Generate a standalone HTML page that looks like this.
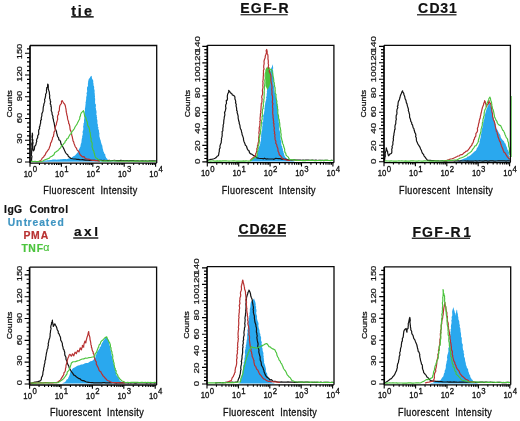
<!DOCTYPE html>
<html><head><meta charset="utf-8"><style>
html,body{margin:0;padding:0;background:#fff;width:520px;height:421px;overflow:hidden;}
text.r{stroke:#111;stroke-width:0.28px;stroke-linejoin:round;}
svg{display:block;filter:blur(0.4px);}
</style></head><body>
<svg width="520" height="421" viewBox="0 0 520 421" font-family='"Liberation Sans", sans-serif' fill="#111">
<rect width="520" height="421" fill="#fff"/>
<polygon points="40,161.8 41.17,161.46 42.56,161.22 43.8,160.8 45,160.5 46.35,160.38 47.48,160.23 48.76,160.27 50.24,159.93 51.39,159.95 52.65,159.61 54,159.6 55.27,159.48 56.69,159.63 57.94,159.56 59.35,159.48 60.74,159.14 62,159.2 63.23,158.98 64.29,159 65.8,159.04 66.58,159.29 68,158.8 69.46,158.15 70.3,158.3 71.5,157.8 73.04,156.45 74,156 75.04,155.56 76.08,154.26 77.2,153.01 78,152 78.28,150.94 78.89,149.48 79.56,148.34 79.72,147.65 80.39,146.64 80.6,145 80.96,143.45 81.35,142.99 81.5,141.57 81.61,139.99 81.91,138.33 82.23,137.93 82.11,136.55 82.6,135 82.87,133.3 82.51,132.61 82.75,131.02 83.15,130.18 83.36,128.83 83.18,126.92 83.14,125.88 83.55,125.26 83.44,123.62 84.08,122.38 84.04,121.39 84,120 84.24,118.72 84.28,117.74 84.13,116.61 84.77,114.46 84.41,113.45 84.46,112.07 84.98,110.8 85,110 84.81,109.28 85.18,107.55 85.36,106.06 85.47,104.63 85.68,103.45 85.49,102.15 85.81,101.77 86,100 86.2,99.33 86.18,97.21 86.53,95.88 86.86,94.87 86.46,93.48 86.61,93.02 87.23,91.32 87,90 86.99,88.16 87.07,87.26 87.67,86.4 88,85.39 87.83,83.96 88.08,82.77 88.09,81.82 88.5,80 88.82,78.97 89.73,78.03 90.5,76.5 91.7,75.8 91.88,77.67 92.21,78.88 93,80 93.33,81.26 93.14,82.36 93.52,83.41 93.51,85.41 93.97,85.97 94.22,87.66 94.05,88.85 94.5,90 94.65,90.78 94.53,92.94 94.82,93.42 94.77,94.95 95.09,96.68 94.73,96.96 95.07,98.17 95.2,100 95.05,100.78 95.1,102.65 95.21,103.83 95.94,104.57 95.89,106.35 95.56,108.04 96.07,108.61 96,110 96.44,110.77 96.57,112.91 96.21,114.25 96.85,115.5 96.66,116.54 97.18,117.32 96.8,118.17 97.3,120 97.47,121.31 97.36,122.66 97.48,123.72 97.97,124.64 97.81,126.73 98.55,127.61 98.13,128.78 98.97,130.32 98.94,130.7 99.02,132.18 99.48,133.16 99.3,135 99.43,136.71 99.68,137.26 100.14,139.21 100.74,140.52 100.7,140.76 101.14,142.82 101.66,144.27 101.9,145 102.39,145.66 102.43,146.98 102.73,148.7 103.19,149.97 103.22,151.32 103.9,152 104.16,153.54 105.15,153.95 105.43,156.32 105.9,157 106.21,158 107.18,158.86 107.9,160 109.2,160.22 110.58,160.56 112,161 113.29,161.23 114.76,161.08 115.9,161.17 117.41,161.22 118.7,161.27 120,161.5" fill="#2aa8ee" stroke="none"/>
<polyline points="30.5,161.5 31.6,160.5 31.54,159.08 31.82,157.45 31.96,156.29 31.38,155.19 31.53,153.37 31.64,152.59 31.61,151.76 31.72,150.26 31.79,148.24 31.89,147.63 31.96,146.27 31.73,144.35 31.77,143.47 32.33,142.03 32.33,140.39 31.94,139.76 32.37,138.59 31.94,136.98 32.04,135.92 32.32,134.54 32.3,133 32.58,134.96 32.43,136.35 32.38,137.59 32.32,138.77 32.97,139.95 32.66,141.65 33.06,142.9 32.8,144.03 32.63,145.43 32.93,146.98 32.8,148.08 32.95,149.34 33.3,150.9 34.19,149.86 34.5,148.04 34.66,146.29 35.5,145.5 35.85,144.8 36.31,142.59 36.8,141.33 36.45,140.39 37.06,138.58 37.72,137.57 37.66,135.99 37.71,135.8 38.71,134.13 38.7,132.7 38.62,130.96 38.93,129.48 39.65,128.7 39.35,127.16 39.9,126.15 40.19,124.37 40.64,123.01 40.63,122.45 40.63,120.29 41.51,119.78 41.19,118.42 41.37,117.31 41.9,115.6 41.81,113.82 42.19,113.12 42.9,111.35 43.08,110.23 43.1,109.24 43.19,107.96 43.51,105.98 43.97,105.09 43.78,104.3 44.55,102.38 44.82,101.45 44.52,99.29 45.1,98.5 45.33,97.09 45.7,95.46 45.55,94.4 46.4,92.65 46.61,92.02 46.41,90.11 46.71,89.19 46.67,87.84 47.53,87.18 47.61,85.19 47.7,84 48.2,84.91 48.34,87.16 48.18,88.21 48.61,90.18 48.98,90.97 49.39,92.73 49.4,94.2 49.76,95.34 49.61,96.63 49.64,98.47 50.16,99.33 50.28,101 50.7,101.65 50.24,103.87 51.01,104.99 50.88,106.59 51.29,106.87 51.32,109.04 51.18,110.36 51.5,111.3 52.09,112.66 52.02,114.13 52.59,115.57 53.02,116.74 52.83,117.7 53.4,119.55 53.61,121.44 54.08,122.51 54.21,123.29 54.42,124.72 54.7,126.3 55.08,128.22 55.55,129.34 55.98,130.24 56.57,131.82 56.59,132.9 57.22,134.79 57.19,135.16 57.9,137 58.61,137.96 58.88,139.9 59.82,140.24 60.66,141.78 60.63,142.51 61.34,144.74 62.2,145.5 62.93,147.02 63.54,148.21 63.92,149.03 64.62,150.63 65.17,151.87 65.69,152.74 66.5,154 67.58,154.58 68.31,156.31 69.41,157.17 70.7,158.3 72.57,158.72 73.96,158.98 75.37,159.01 77,159.4 78.35,159.37 79.73,159.58 81.21,159.75 82.61,159.62 83.98,159.8 85.32,160.11 86.74,160.11 88.13,160.11 89.54,160.36 91,160.3 92.34,160.43 93.71,160.26 94.89,160.35 96.25,160.49 97.51,160.33 98.88,160.28 100.1,160.27 101.42,160.39 102.6,160.52 104.1,160.43 105.2,160.62 106.56,160.52 107.8,160.52 109.27,160.42 110.47,160.67 111.71,160.52 113,160.5 114.47,160.41 115.72,160.6 117.07,160.69 118.35,160.66 119.69,160.69 120.85,160.45 122.24,160.64 123.59,160.52 124.76,160.73 126.07,160.64 127.39,160.64 128.78,160.87 129.95,160.64 131.2,160.72 132.71,160.71 133.83,160.64 135.17,160.9 136.54,160.91 137.88,160.72 139.14,160.98 140.47,160.93 141.64,160.78 143,160.74 144.34,160.99 145.59,160.72 146.9,161.04 148.11,160.98 149.48,160.79 150.89,160.93 152.18,160.81 153.33,160.92 154.74,160.82 156,161" fill="none" stroke="#141414" stroke-width="1.2" stroke-linejoin="round"/>
<polyline points="39.3,161 40.8,160.5 41.68,159.34 42.16,158.12 43.61,157.11 44.3,155.69 45.1,155 45.76,153.61 46.27,152.23 46.96,151.74 47.97,150.08 48.88,149.06 49.4,147.6 49.67,146.78 50.28,145.59 50.5,143.58 50.77,142.85 51.59,141.57 51.83,140.42 52.52,139.02 52.42,137.75 53.51,136.36 53.6,134.8 53.88,133.66 54.08,131.88 54.84,131.13 55.15,129.37 55.13,128.79 55.26,127.15 55.81,125.53 56.34,124.75 56.41,123.6 56.8,122 57.4,120.14 57.67,118.99 57.51,117.56 57.5,116.62 57.8,115.3 58.64,114.2 58.35,112.09 59.1,111.11 59.45,109.56 59.4,108.25 59.6,107 59.82,105.71 60.65,104.3 61.51,103.41 61.45,101.29 62.2,100.6 62.7,101.53 63.53,102.77 64.8,104.42 65.4,106 65.53,107.17 65.83,108.41 66.11,109.99 66.18,111.2 66.32,112.15 66.68,113.61 66.9,115.11 67.4,116.5 67.5,117.7 67.55,118.4 67.92,119.9 68.67,121.96 68.56,123.22 69.36,124.33 69.47,125.24 69.82,126.45 69.95,128.23 70.2,129.81 70.7,130.6 70.9,131.41 71.44,132.89 71.63,134.5 71.8,135.35 72.47,137.5 72.39,137.8 72.74,139.08 73.02,140.99 73.68,141.85 74,143.4 74.51,144.58 75.08,146.26 75.52,147.08 76.37,148.06 77,149.8 77.81,150.64 78.86,151.72 79.37,152.96 80.14,154.7 81.3,155.8 82.43,156.88 83.98,156.58 85.2,158.41 86.87,159.02 88,159.2 89.46,159.43 90.99,160.01 92.6,160.3 94.16,160.29 95.47,160.58 96.99,160.68 98.5,161.03 100,161" fill="none" stroke="#b83232" stroke-width="1.2" stroke-linejoin="round"/>
<polyline points="30.5,161.4 31.93,161.33 33.51,161.45 34.97,161.43 36.48,161.58 37.87,161.63 39.28,161.38 40.8,161.5 42.12,161.21 43.32,160.67 44.39,160.04 45.77,159.49 46.9,159.12 48.48,158.42 49.4,158.3 50.18,157.04 51.84,156.32 52.87,155.48 53.93,154.7 54.83,152.52 55.8,152 56.42,151.55 57.66,150.74 58.63,149.81 59.39,148.76 60.63,147.84 61.23,146.17 62.2,145.5 63.14,144.65 63.64,143.65 64.87,142.72 65.16,141.29 66.35,140.32 66.81,138.71 67.88,138.57 68.6,137 69.15,136.07 70.16,134.31 71.5,133.45 71.77,131.75 72.9,130.6 73.56,129.6 74.46,128.56 75,127 75.87,125.77 77,124.1 77.7,122.57 78.3,121.41 79,120 79.71,119.02 79.78,117.13 80.54,115.62 80.5,114.63 81.3,112.9 82.07,112.07 83.5,110.6 83.63,111.6 84.17,113.46 84.52,115.48 85.1,116.7 85.77,117.57 86.23,119.35 86.54,120.63 87.17,121.67 87.4,122.8 87.46,124.17 87.86,125.92 88.56,126.72 89.03,127.83 89.38,128.96 89.7,130.4 89.71,131.52 90.26,132.84 90.38,134.77 90.51,135.18 90.59,136.96 91.26,138.77 91.2,139.5 91.09,141.12 91.82,142.28 92.12,142.92 92.2,144.78 91.97,146.42 92.23,147.36 92.7,148.6 92.9,149.83 93.8,150.85 94.06,152.92 94.44,153.42 94.59,154.68 95,156.2 95.69,157.7 97.03,158.45 97.81,159.12 98.8,160 100.38,160.55 102,161 103.42,161.15 104.7,160.85 105.94,160.94 107.2,161.15 108.61,161.11 109.99,160.9 111.28,160.87 112.59,161 113.76,160.87 115.11,160.87 116.41,160.98 117.9,161.15 119.11,160.96 120.54,161.21 121.83,161.06 123.05,160.96 124.37,161.23 125.72,161.06 126.98,161.07 128.26,161.18 129.67,161.02 130.91,161.09 132.36,160.99 133.71,161.07 134.94,160.94 136.21,161.13 137.5,161.13 138.78,161.26 140.17,161.14 141.53,161.16 142.82,161.31 144.12,161.05 145.36,161.06 146.82,161.18 148.04,161.04 149.38,161.26 150.67,161.09 152.03,161.2 153.45,161.31 154.58,161.09 156,161.2" fill="none" stroke="#4cc43e" stroke-width="1.15" stroke-linejoin="round"/>
<polygon points="250,161.5 251.02,160.46 252.1,159.8 252.98,158.91 253.79,157.45 254.85,157.09 255.79,156.49 257,155 257.02,153.38 257.37,152.82 257.9,151.22 258.21,150.16 258.6,148.4 258.95,147.27 259.05,146.64 259.8,145.2 260.28,143.62 260.25,142.41 260.6,141.45 261,140 260.76,138.71 261.27,137.31 261.02,136.5 261.13,135.08 261.35,133.19 261.49,131.98 261.59,131.47 262.12,129.84 262.19,128.72 262.2,127.95 262.18,126.69 262.58,125.22 262.2,123.25 262.34,122.31 263.12,121.7 263.16,119.54 263.19,119.08 263.38,117.85 263.02,115.86 263.4,115 263.83,114.04 264.12,112.44 264.33,110.82 264.6,110.46 264.37,108.23 264.73,107.73 264.81,105.72 264.97,105.39 265.06,104.27 265.39,102.15 265.5,101.83 266,100 266.42,98.56 265.98,97.74 266.68,95.75 266.63,95.54 266.64,93.97 267.02,92.35 266.77,91.64 267.1,90.26 267.08,89.52 267.18,87.99 267.75,86.44 267.28,85 267.42,83.69 267.59,82.7 267.91,81.6 268.25,80.66 268.4,79.06 268.4,78 268.84,76.86 268.77,75.66 269.23,74.61 269.85,72.89 270,72 270.4,70.66 270.75,68.88 271.03,68.74 271.97,66.79 272.37,65.31 272.7,64.3 272.91,66.05 273.02,66.67 273.23,68.43 272.63,69.02 272.97,70.07 273.15,71.12 273.31,73.18 272.88,74.19 273.09,75.34 273.45,76.95 273.59,77.39 273.6,78.37 273.5,80 273.75,81.15 273.53,82.19 273.6,84.11 273.61,84.68 273.78,85.84 274.27,87.6 274.32,89.23 274.3,90 274.56,90.7 274.68,92.52 275.36,94.25 275.51,94.67 275.87,96.77 275.98,98.02 276.69,98.84 276.7,100 276.82,100.8 276.69,101.95 277.18,104.01 277.59,105.12 277.72,106.13 277.24,106.97 277.48,108.79 278.12,109.76 277.71,111.52 277.95,112.57 277.92,114.17 278.3,115 278.72,116.56 278.84,117.3 278.31,118.52 279.05,119.96 278.66,120.83 278.75,122.43 279.41,124.21 279.41,125.31 279.11,126.58 279.25,127.53 279.23,129.22 279.41,130.11 279.91,131.42 280.04,132.34 280.24,134.28 280.22,135.58 280.51,135.72 280.49,137.01 280.6,138.6 280.6,140 281.16,140.7 281.52,141.95 281.18,143.15 281.53,145.58 282.34,146.75 282.17,147.73 282.91,149.02 282.83,150.57 283.46,151.47 283.44,152.38 284.09,153.77 284.2,155 284.95,156.5 285.66,157.43 286.15,158.04 287.29,158.82 288,160 289.44,160.22 290.83,160.64 292.12,161.06 293.54,161.07 295,161.5" fill="#2aa8ee" stroke="none"/>
<polygon points="265.4,70 266.5,67.5 269.5,67 270.5,72 271,80 269.5,86 267.5,90 265.5,86" fill="#4cc43e" stroke="none"/>
<polyline points="208,160.2 209.38,159.76 210.84,159.37 212.48,159.14 213.9,158.7 215,158.25 216.11,157.64 217.35,156.02 218.4,155.7 218.71,154.34 218.95,152.69 219.33,151.32 219.31,150.04 219.55,148.64 220.16,147.88 219.91,146.44 220.21,145.18 220.71,143.72 221.22,142.67 221.3,141 221.6,139.42 221.34,138.43 221.82,137.47 222.24,135.29 222.07,134.59 222.24,133.56 222.12,131.56 222.88,130.87 222.8,128.7 223.03,127.45 223.27,126.14 223.08,125.11 223.66,123.65 223.7,122.42 223.82,120.41 223.87,120.11 224.14,118.67 224.3,117 224.82,115.11 224.85,114.31 224.51,112.65 225.06,111.61 225.52,110.14 225.65,108.88 225.96,108.22 225.58,106.69 225.74,104.78 226.49,103.56 226.4,102.3 226.31,100.38 227.26,100.09 227.5,98.14 227.28,97.23 227.35,95.81 227.68,93.99 228.37,92.73 228.8,91.93 228.7,90.4 229.77,91.57 230.51,92.95 231.7,93.4 232.37,94.89 233.72,95.52 234.7,96.4 234.95,97.62 234.91,98.93 235.47,100.24 235.81,102.05 235.48,102.68 236.29,104.56 236,105.91 236.52,107.48 236.69,109.1 236.58,110.4 237.3,111.14 237.09,112.22 237.6,114 238.02,115.56 238.17,116.23 238.13,118.07 238.41,119.21 238.62,120.49 239.27,122.55 239.16,123.3 239.66,124.57 239.99,125.67 240.1,127.35 240.6,129 241.26,130.11 241.54,132.03 241.94,132.98 242.07,134.45 242.5,135.54 242.91,136.6 243.48,138.36 243.48,139.64 243.89,141.19 244.64,143.11 245,143.9 245.39,145.26 246.5,146.13 246.89,147.81 247.29,148.92 248.5,150.75 249.15,150.94 249.5,152.8 250.89,153.95 251.9,154.22 253.3,155.4 254.63,156.02 256,156.78 256.9,157.8 258.86,158.27 260.22,158.52 262,158.5 263.62,158.85 264.51,158.21 266.07,159.06 267.36,158.74 268.7,158.99 270,159 271.41,159 272.89,159.02 273.94,159.33 275.88,158.28 276.9,158.49 278.65,158.67 280,158.5 281.37,159.14 282.86,158.96 284.33,159.26 285.64,159.21 287.14,159.69 288.66,159.8 290,160 291.23,160.07 292.68,160.12 293.84,159.88 295.2,159.97 296.48,160.17 297.88,160.12 299.21,160.18 300.35,160.09 301.68,160.31 303.01,160.07 304.41,160.33 305.61,160.11 306.9,160.03 308.27,160.04 309.65,160.34 310.82,160.27 312.22,160.12 313.49,160.4 314.76,160.42 316.01,160.12 317.31,160.5 318.63,160.27 319.88,160.31 321.22,160.36 322.47,160.24 323.77,160.55 325.24,160.31 326.44,160.33 327.79,160.44 329.14,160.5 330.29,160.5 331.6,160.46 333,160.5" fill="none" stroke="#141414" stroke-width="1.2" stroke-linejoin="round"/>
<polyline points="250,160.5 250.93,159.69 251.9,158.62 252.66,157.95 253.62,157.4 254.57,156.47 255.7,155 255.68,153.57 256.28,152.81 256.77,150.68 256.89,149.97 256.83,148.56 257.56,147.38 257.41,145.74 257.85,144.64 258.35,142.15 258.75,141.75 258.7,140 258.63,139.24 258.64,137.9 259.04,135.48 259.28,134.52 258.84,133.02 258.94,132.05 259.17,131.29 259.33,129 259.15,128.41 259.31,127.39 259.86,125.61 259.83,123.95 260.15,122.67 259.7,121.67 260.31,120.83 260.04,118.63 260.19,117.16 260.38,115.98 260.4,115 260.39,113.98 260.99,112.42 260.65,111.45 261.01,109.61 261.01,108.57 261.09,106.41 261.25,105.23 261.25,103.64 261.77,102.42 262.03,101.54 261.9,100 262.23,98.89 261.75,97.74 261.81,95.95 262.48,94.8 262.62,93.43 262.6,91.98 262.38,90.95 262.56,89.3 262.87,88.03 263.06,86.86 262.76,86.07 262.93,84.08 263.07,82.9 262.75,81.26 263.01,80.4 263.22,78.85 263.22,77.98 263.31,75.94 263.5,75 263.36,73.98 263.51,72.08 263.45,70.36 264.12,68.98 263.68,67.86 263.77,67.25 263.69,66 264.07,64.06 264.17,63.19 263.99,61.34 264.3,60 265.2,57.6 265.23,56.49 265.5,55.34 266,54.14 266.5,52.39 266.1,50.7 266.7,49.5 267.04,50.9 267.21,51.77 267.07,53.53 267.71,54.33 267.99,56.01 268,57.6 267.95,59.06 268.22,59.97 268.34,62.13 268.17,63.61 268.6,64.88 268.49,65.96 268.18,67.21 268.6,68.6 269.4,70.45 269.16,71.73 269.69,72.35 270.12,73.37 270.8,75 270.98,76.72 270.89,77.93 271.09,78.56 270.89,80.64 271.24,82.13 271.23,82.41 271.74,84.55 271.91,85.31 271.92,86.48 272.01,88.34 271.68,89.06 271.96,90.99 272.03,92.6 271.91,93.27 271.91,94.28 272.54,96.41 272.58,97.25 272.53,98.3 272.6,100 272.31,101.65 272.42,103.03 272.97,103.55 272.57,105.01 272.51,107.35 272.88,108.35 272.7,109.69 272.82,110.56 272.66,111.94 272.73,113.64 272.9,115 273.1,115.9 273,117.9 273.34,118.45 273.36,120.41 273.8,121.23 273.41,123 274.01,123.65 273.77,125.7 273.92,126.3 274.45,128.38 274.1,128.97 274.25,130.89 274.69,132.7 274.32,133.52 275.02,134.3 274.74,136.56 275.14,137.85 274.97,139.13 275.3,140 275.95,141.33 275.7,143.19 276.63,144.48 276.9,145.7 276.9,146.29 277.82,148.35 277.99,149.77 278.06,151.25 278.96,152.74 278.93,153.25 279.4,155 280.6,155.73 281.95,157.85 282.79,158.51 284,159.5 285.6,159.77 287.03,160.14 288.5,160.38 290,160.5" fill="none" stroke="#b83232" stroke-width="1.2" stroke-linejoin="round"/>
<polyline points="208,161 209.31,160.97 210.69,161.11 212,160.96 213.35,160.89 214.63,161.06 215.81,161.16 217.23,160.85 218.55,161.06 219.82,160.82 221.16,161.17 222.53,160.93 223.79,160.88 225.07,160.9 226.38,160.88 227.68,160.96 228.95,161.14 230.41,161.03 231.69,161.04 232.99,160.91 234.2,160.93 235.56,161.01 236.96,161.11 238.15,160.95 239.54,161.09 240.72,160.97 242.02,161.07 243.54,160.88 244.77,161.16 246.02,160.84 247.39,161.03 248.72,161.13 250,161 251.14,160.21 252.43,159.22 253.18,158.6 254.42,158.05 256.11,157.01 257,156 257.3,154.92 257,152.85 257.22,152.38 257.98,150.58 257.68,149.53 258.28,148.46 257.91,146.52 258.15,146.23 258.97,143.84 259.02,143.67 259.3,141.49 259.45,140.12 258.97,138.7 259.18,138.47 259.67,136.92 259.75,135.41 260.27,133.76 260.56,132.15 260.62,131 260.64,129.9 260.99,128.49 260.86,127.85 261.21,126.09 261.3,125 261.2,124.14 261.67,121.79 261.56,120.86 262.14,119.25 262.15,118.11 261.96,116.74 262.47,116.3 262.24,114.19 262.39,113.68 262.28,111.48 262.45,110.96 262.57,109.22 263.18,108.41 263.01,107.17 263.53,105.81 263.17,103.58 263.61,102.47 263.91,101.12 263.7,100 263.98,98.96 264.16,97.83 264.06,96.1 264.19,94.72 264.23,93.93 264.16,92.4 264.18,91.22 264.45,89.05 264.35,88.22 264.39,87.12 264.56,86.09 264.77,83.8 265.05,82.89 264.83,81.96 264.79,80.13 265.3,78.7 265.34,77.65 265.09,75.83 265.2,75 265.22,73.44 265.97,72.29 266.31,71.13 266.7,69.5 268.04,69.8 269.63,69.08 271.4,69.5 272,70.56 272.08,72.19 272.64,73.35 273,75 272.91,75.98 273.47,77.88 273.58,78.58 273.81,80.55 273.67,81.43 274.44,83.13 274.13,83.92 274.59,85.55 274.58,86.53 275.14,87.76 275.09,89.25 275.26,90.53 275.13,92.17 275.34,93.76 276.1,94.41 275.92,96.01 276.14,97.93 276.06,98.28 276.5,100 276.99,101.85 276.58,102.54 277.17,104.69 276.81,105.21 277.58,106.7 277.4,108.75 277.88,109.17 277.86,110.97 277.77,112.28 277.87,113.94 278.3,115 278.58,116.1 278.55,118.15 278.81,118.7 279.24,119.75 279.38,121.65 279.67,122.78 279.84,124.62 279.78,125.73 279.88,126.78 280.34,127.98 280.6,130.01 280.78,130.19 280.71,132.43 281.03,133.6 281.21,134.33 280.97,136.53 281.1,137.05 281.53,138.31 281.8,140 282.51,141.81 282.51,142.71 282.78,143.7 283.47,145.04 283.75,146.74 284.15,147.72 284.69,149.18 284.62,150.47 285.02,152.53 285.79,153.25 286,155 286.81,155.86 288.31,157.15 289.21,158.95 290,159.5 291.39,159.68 292.96,159.81 294.27,159.79 295.71,160.15 297.13,160.32 298.53,160.5 300,160.5 301.4,160.52 302.59,160.57 304.04,160.44 305.2,160.56 306.61,160.48 307.97,160.52 309.34,160.41 310.55,160.39 311.81,160.33 313.17,160.42 314.58,160.6 315.85,160.64 317.09,160.54 318.5,160.51 319.86,160.34 321.08,160.6 322.47,160.55 323.74,160.35 325.09,160.44 326.41,160.33 327.68,160.43 329.09,160.51 330.4,160.58 331.67,160.39 333,160.5" fill="none" stroke="#4cc43e" stroke-width="1.15" stroke-linejoin="round"/>
<polygon points="455,161.5 456.42,161.29 458,161 459.09,160.64 460.34,160.08 461.51,159.7 462.54,159.25 463.8,158.8 465.04,158.25 466.37,157.93 467.16,156.75 468.4,156.5 469.28,156 470.84,154.88 471.81,153.88 473,153 473.67,152.19 474.49,151.45 475.72,150.65 476.5,149.6 476.86,147.99 477.46,147.59 478.13,146.54 478.61,145 479.2,144 479.72,142.36 479.44,141.62 479.97,140.19 480.14,138.96 480.45,138.26 480.78,136.72 480.75,135.85 480.96,134.22 481.49,133.05 481.37,131.87 481.75,130.84 481.9,129.1 482.26,127.9 482.78,126.65 482.64,125.91 483.3,123.75 482.94,123.33 483.8,121.52 483.61,120.64 484.38,118.84 484.29,118.14 484.6,116.7 484.77,115.33 485.09,114.13 485.52,112.38 486.01,111.19 486.18,109.92 486.77,108.85 487.2,107.8 488.04,106.37 488.37,104.78 489.08,104.12 489.9,102.5 489.99,103.64 490.72,105.26 490.77,106.46 491.2,106.91 491.11,108.02 491.7,109.6 492.17,110.74 492.46,112.7 492.77,113.38 492.37,114.42 492.78,116.14 493.39,117.73 493.5,118.5 494.02,120.32 494.34,121.01 494.86,122.04 495.19,123.86 495.62,124.33 495.5,126.67 496.1,127.4 496.52,128.67 497.52,130.03 498.4,131.92 498.8,132.7 499.29,133.44 500.3,135.01 500.42,135.82 500.85,137.53 501.64,138.68 502.4,139.8 503.41,140.86 504.13,141.44 504.69,143.35 505.53,143.56 505.9,145.2 506.44,146.51 507.05,147.65 507.36,149.4 508.33,150.4 508.6,151.4 509.13,152.8 508.7,154.3 508.92,155.7 509.51,156.38 509.35,157.55 509.8,159.4 509.8,161.5" fill="#2aa8ee" stroke="none"/>
<polyline points="384.5,160.3 384.76,158.97 384.83,157.18 385.23,156.73 385.25,155.21 385.17,153.44 385.49,152.03 385.98,151.08 386.12,149.72 386.3,147.9 386.56,148.77 387.04,150.79 387.6,151.29 387.65,152.87 388.2,154.92 388.6,155.8 389.79,154.11 391.3,153.5 391.77,152.63 391.86,150.31 391.68,149.16 392.33,147.78 391.95,146.58 392.61,145.24 392.93,144.05 392.87,142.6 392.8,142.09 393.49,140.02 393.21,138.49 393.5,137.7 393.47,136.25 393.9,135.17 393.97,133.36 394.31,132.29 394.35,131.73 394.71,129.27 395.17,129.11 394.95,127.81 394.94,126.43 395.18,125.05 395.74,123.86 395.8,122 395.81,120.89 396.43,118.97 396.04,118.19 396.16,116.29 396.24,115.35 396.85,114.2 396.97,112.38 396.77,111.74 396.97,109.78 397.06,109.25 397.86,107.77 397.33,106.12 397.97,105.54 398,103.9 398.17,102.54 398.43,101.31 399.33,99.95 399.74,98.31 400.04,97.28 400.3,96 400.95,94.19 401.42,93.54 401.83,92.16 402.6,90.8 402.69,91.94 403.8,93.46 403.92,94.97 404.5,95.77 404.8,97 405.15,98.83 405.73,99.75 406.03,100.72 406.34,102.64 407,103.9 407.32,105.55 407.55,106.39 407.91,107.55 408.5,109.33 408.31,110.47 409,112.34 409.19,113.57 409.55,114.27 409.57,115.71 409.59,117.18 410.25,118.73 410.5,119.7 410.87,121.56 411.64,122.37 411.76,124.08 412.57,125 412.71,125.77 413.2,127.92 413.9,128.7 414.19,130.29 414.7,131.77 414.74,132.39 415.55,133.67 415.91,135.33 415.54,136.56 416.4,138.04 416.28,138.99 416.55,140.94 417.2,142.2 417.78,143.77 418.29,144.66 419.28,146.07 420.06,147.35 420.6,149 421.46,150.56 421.9,151.97 422.53,153.58 423.49,154.18 424,155.8 425.1,157.08 425.96,158.3 426.64,159.19 427.4,160.3 428.77,160.46 430.29,160.46 431.65,160.57 432.96,160.5 434.43,160.57 435.79,160.87 437.17,160.82 438.7,160.95 440,161 441.33,160.89 442.7,160.95 444.01,161.16 445.35,160.9 446.7,161.06 447.85,160.84 449.19,161.03 450.56,160.82 451.98,160.84 453.28,161 454.59,161.11 455.89,160.96 457.17,160.89 458.44,160.83 459.78,161.14 461.18,160.84 462.42,160.98 463.78,161 465.17,160.89 466.45,161.05 467.63,160.87 468.97,161.04 470.45,161.14 471.77,161.02 473.04,161.06 474.3,160.99 475.58,160.94 476.95,161.16 478.24,161 479.53,160.84 480.95,161.03 482.27,161.18 483.58,161.05 484.99,160.87 486.28,160.87 487.63,161.09 488.93,161.13 490.09,160.85 491.49,160.84 492.92,160.88 494.09,161.08 495.39,161.13 496.76,161.01 498.19,160.85 499.38,160.96 500.8,160.93 502.06,160.89 503.42,160.97 504.75,160.82 506.05,161.16 507.3,160.91 508.74,160.87 510,161" fill="none" stroke="#141414" stroke-width="1.2" stroke-linejoin="round"/>
<polyline points="445,161 446.45,160.51 447.7,160 449.14,159.57 450.48,158.98 451.95,158.73 453.4,158.3 455.05,157.53 456.64,156.69 457.86,156.01 459.2,156 460.15,154.8 461.84,154.71 462.69,154.18 463.8,153 465.28,152 466.36,151.05 467.4,150.84 468.4,149.6 469.19,148.64 470.32,146.81 471.21,145.79 471.9,145 472.27,143.49 472.78,143.13 473.41,141.83 473.72,139.9 474.5,139 474.57,137.71 475.66,136.5 475.92,134.82 475.86,133.63 476.6,132.7 477.25,131.6 477.56,130.35 477.4,128.32 477.98,126.92 478.21,126.06 478.37,125.24 478.56,123.85 479.2,122 479.17,121.18 479.74,118.83 480.19,118.12 480.33,116.46 480.82,114.84 480.86,113.97 481.27,112.76 481.56,111.25 481.9,109.6 482.32,108.01 482.57,107.13 483.04,106.03 483.57,104.75 483.64,103.68 484.51,101.8 484.6,100.7 485.31,101.91 485.28,102.65 485.99,104.65 486.39,105.57 486.7,106.9 486.87,105.06 487.71,104.6 488.41,103.55 488.57,102.51 489,100.7 489.25,102.39 490.21,102.99 490.8,104.2 491.11,105.36 491.25,107.33 491.61,108.71 491.69,109.17 491.92,111.19 492.02,112.37 492.5,113.4 492.6,114.9 492.57,116.49 493.11,118.16 493.22,119.16 493.96,120.71 494.47,122.04 494.71,123.11 495.04,124.54 495.2,125.6 495.52,126.79 495.64,128.15 496.23,130.09 496.36,131.42 497.09,132.11 497.35,134.2 497.84,135.27 497.9,136.3 498.32,137.58 498.9,138.88 499.49,140.96 500.23,141.72 500.6,143.4 501.25,144.92 501.39,145.92 502.04,147.16 502.89,149.24 503.3,150.5 504.08,152.35 504.98,152.78 505.87,154.38 506.8,155.8 507.47,156.82 508.75,158.35 509.5,159.4" fill="none" stroke="#b83232" stroke-width="1.2" stroke-linejoin="round"/>
<polyline points="384.5,161 385.89,160.86 387.17,160.97 388.47,160.97 389.77,161.07 391.18,160.88 392.49,161.04 393.75,161.07 395.13,161.07 396.39,161.12 397.77,160.99 398.96,160.93 400.31,160.95 401.77,160.86 403.05,161.02 404.27,161.07 405.61,160.9 407,161.06 408.35,160.97 409.62,161.11 411,160.9 412.24,160.89 413.47,160.87 414.94,160.96 416.18,161.12 417.61,161.16 418.79,160.86 420.09,160.97 421.56,161.13 422.85,161.12 424.16,160.87 425.37,160.87 426.71,161.05 428.12,161.03 429.42,161.08 430.77,161.07 432.05,161.01 433.29,161.16 434.7,160.88 436.09,160.88 437.3,160.89 438.58,160.96 440,161 441.28,160.91 442.63,160.97 443.86,160.64 445.29,160.7 446.57,160.63 447.88,160.38 449.03,160.59 450.3,160.4 451.69,160.41 453.03,160.26 454.33,159.97 455.6,160.02 456.9,160 458.45,159.12 459.77,158.22 461.5,157.7 463.38,156.99 464.34,156.5 466.1,155.4 467.6,154.42 468.27,153.25 469.44,153.01 470.8,151.9 471.58,151.34 472.62,149.27 473.43,148.28 474.2,147.3 474.82,146.04 476.03,145.6 476.83,144.2 477.7,142.7 478.42,141.36 478.32,140.34 479.01,138.31 479.26,137.18 479.5,136.47 479.77,135.22 480.3,133.55 480.63,132.76 481,131 481.05,129.23 481.34,128.38 481.81,126.86 482.06,126.24 482.36,124.44 482.28,123.08 482.98,121.72 482.91,120.73 483.01,119.09 483.39,118.28 483.72,116.41 484.22,115.63 484.15,113.77 484.22,112.5 484.6,111.4 484.8,110.01 485.54,108.8 485.91,107.92 486.18,105.89 486.48,105.03 487.03,103.13 487.53,102.35 488.1,100.7 488.6,99.96 488.99,98.45 489.9,97.1 490.5,98.53 490.75,100.47 491.03,101.08 491.58,102.51 491.7,104.2 492.01,105.95 492.29,107.1 492.53,108.83 493.01,109.35 493.45,110.9 493.82,112.72 494.1,114.17 494.37,115.03 494.4,116.7 495.19,118.13 495.76,119.46 495.85,119.93 497.09,121.7 497.05,122.39 497.9,123.8 499.17,125.17 500.61,125.61 501.5,127.4 501.86,128.3 502.74,130.33 503.6,130.86 504.07,131.91 504.53,132.84 505,134.5 505.73,136.1 506.32,137.62 507.3,138.6 507.7,139.8 507.79,141.17 508.46,142.55 508.59,144.47 508.58,146 509.05,147.23 509.5,148.7 509.28,149.88 509.61,152.08 509.85,153 510,155" fill="none" stroke="#4cc43e" stroke-width="1.15" stroke-linejoin="round"/>
<polyline points="511.1,96 511.1,157" fill="none" stroke="#4cc43e" stroke-width="1.2" stroke-linejoin="round"/>
<polygon points="62,383.5 63.45,382.83 64.7,382.2 65.81,381.22 66.63,379.56 67.9,379 68.5,377.17 68.87,376.72 69.74,374.42 70,373.5 70.37,371.83 71.57,370.26 72,369.5 72.97,368.2 74.07,367.86 75.5,367 76.52,366.14 78,365.5 79.67,365.22 81,364.4 82.31,364.39 83.8,364.09 84.94,363.19 86.5,363 87.93,363.04 89.34,361.97 90.45,361.24 92,361 93.05,360.33 94.5,358.5 95.31,357.74 95.59,356.28 96.1,354.8 96.51,353.68 96.96,352.5 97.6,351.02 98.64,349.92 98.9,349.3 99.67,348.44 99.68,347.08 100.88,346.58 101.11,345.23 101.6,343.8 102.38,342.45 102.9,341.72 103.5,340.5 104.22,339.78 105.1,338.3 107.1,337.6 108.2,339.5 108.66,341.25 109.2,342.4 109.16,343.61 109.42,345.13 110.29,346.28 110.3,347.5 110.6,349.12 110.6,350.31 111.11,352.1 111.3,353.4 111.49,354.59 111.74,355.91 112.27,356.85 112.55,358.7 112.7,359.5 112.99,361.34 113.08,362.52 113.25,363.12 113.97,363.98 114,365.8 114.43,367.55 115.02,368.62 114.94,369.5 115.4,371 115.96,371.95 115.99,374.39 116.8,375.4 117.57,376.2 118.1,377.55 119.09,378.74 119.5,380.2 120.71,381.29 121.6,381.8 122.71,382.46 123.9,383.3 126,383.5" fill="#2aa8ee" stroke="none"/>
<polyline points="30.7,383.4 31.96,383.07 33.4,382.5 34.92,382.1 36.46,381.93 37.9,381.6 39.54,381.13 40.7,380.4 41.31,379.46 41.49,377.37 42.34,376.12 42.5,375.3 42.8,374.59 42.91,372.41 43.19,371.04 43.71,369.86 43.48,368.91 43.87,367.11 44.3,366.2 44.18,365.26 44.66,363.62 44.96,362.59 44.89,360.96 45.66,359.19 45.6,357.9 45.75,357.28 46.1,355.4 46.26,354.25 46.49,352.86 46.88,351.43 47.23,349.3 47.9,348.2 47.91,346.48 48.46,345.29 48.11,343.44 48.56,342.61 48.8,340.9 49.16,339.44 49.54,338.56 49.9,337.17 50.14,335.72 50.1,333.7 50.43,332.57 50.51,330.84 50.87,329.47 51.09,328.18 50.63,327.3 51.14,324.93 51.55,324.52 51.5,322.8 52.22,321.41 52.4,320.1 52.39,321.36 52.88,323.51 53.12,324.59 53.3,326.5 53.8,325.72 54.8,323.8 55.86,325.83 56.21,326.29 56.9,328.3 57.24,329.8 58.25,331.41 58.24,333.12 59.16,333.98 59.6,335.5 60.26,336.74 60.56,337.63 60.69,340.07 61.41,341.25 61.84,342.12 62.4,343.6 62.41,345.36 62.8,346.49 63.03,347.23 63.25,348.98 64.14,350.19 64.23,351.02 64.74,352.15 64.7,353.9 64.92,355.33 65.6,356.34 65.97,357.49 65.98,359.21 66.76,361.11 67.1,362 67.56,363.82 68.25,365.17 68.69,365.81 69.12,367.43 69.5,368.5 70.15,369.31 71.02,370.95 71.65,371.93 72.8,373.3 73.61,374.89 74.9,375.52 76,376.5 76.94,377.27 78.73,378.55 79.9,378.57 80.8,379.8 82.36,380.65 83.31,380.57 84.79,381.17 85.95,381.77 87.3,382.2 88.6,382.3 89.88,382.52 91.25,382.54 92.59,382.6 93.8,382.8 95.08,382.76 96.34,382.81 97.77,382.73 99.08,382.81 100.43,382.84 101.71,382.78 103.14,382.67 104.47,382.7 105.64,382.81 107.14,382.74 108.26,382.94 109.68,382.72 111.09,382.89 112.37,382.72 113.68,382.7 114.92,382.89 116.4,383.03 117.55,383.02 119.03,382.74 120.17,382.78 121.7,382.8 122.92,382.95 124.22,382.84 125.58,383.01 126.82,382.74 128.2,383.07 129.61,382.76 130.9,383.07 132.25,382.75 133.4,382.91 134.92,383.08 136.11,383.1 137.54,382.91 138.73,382.81 140.09,382.8 141.44,382.99 142.87,382.81 144,383 145.34,382.84 146.76,383.04 148.12,382.93 149.3,382.8 150.77,383.07 151.94,383.01 153.26,382.98 154.75,383.16 156,383" fill="none" stroke="#141414" stroke-width="1.2" stroke-linejoin="round"/>
<polyline points="30.2,383 31.42,383.15 32.77,383.14 34.26,382.85 35.48,382.88 36.78,383 38.19,382.79 39.45,382.93 40.78,382.7 42.06,382.82 43.49,382.92 44.76,382.7 46.13,382.66 47.32,382.62 48.7,382.83 50.04,382.82 51.36,382.74 52.59,382.83 54.07,382.72 55.39,382.76 56.6,382.6 58.28,381.69 59.8,380.6 60.85,379.6 61.18,378.55 62.17,377.1 63.1,375.7 63.87,374.25 63.89,372.88 64.81,371.79 65.38,370.43 65.5,368.5 66.04,367.08 65.91,366.22 66.13,364.84 66.88,362.58 67.1,361.5 67.39,360.19 67.86,358.28 68.7,356.8 69.07,355.11 70,354.3 71.3,356.2 72.5,353.9 73.8,355.8 74.27,354.18 75.1,352.2 76.4,353.7 76.71,352.52 77.7,350.5 79,351.9 79.49,350.28 79.95,348.71 80.2,347.9 81.5,349.8 81.62,348.34 82.36,347.08 82.4,345.4 83.7,347.2 83.67,346.23 84.05,343.77 84.66,342.11 84.9,341.1 85.8,343 86.06,341.18 86.41,339.87 86.72,338.38 87.1,337.1 87.49,335.99 87.9,334.5 88.24,333.03 88.7,331.5 88.85,332.98 89,334.65 89.6,336.3 89.9,337.59 90.07,339.77 90.5,341.4 90.79,342.99 90.92,344.65 91.4,345.7 91.45,347.49 91.88,347.99 92.18,350.09 92.74,351.37 93.25,352.07 93.2,353.4 93.8,354.1 94.19,355.61 94.23,357.35 94.74,358.46 94.99,359.52 95.5,360.9 96.35,361.83 96.25,364.07 96.85,365.11 97.7,366.9 98.27,367.8 99.09,370.4 99.9,371.3 100.91,371.88 101.75,374.03 102.41,374.29 102.9,375.8 103.77,376.39 105.07,378.06 105.9,378.8 107.24,380.45 108.9,381 110.45,381.83 111.9,382.5 113.19,382.68 114.53,382.7 115.92,382.5 117.04,382.6 118.54,382.69 119.73,382.82 121.08,382.83 122.45,382.89 123.75,382.82 125,383" fill="none" stroke="#b83232" stroke-width="1.2" stroke-linejoin="round"/>
<polyline points="30.2,383 31.48,382.92 32.93,383.11 34.31,383.03 35.53,383.1 36.95,383.03 38.25,383.03 39.51,382.94 40.97,382.9 42.28,382.98 43.46,382.69 44.92,382.96 46.22,382.88 47.58,382.74 48.93,382.83 50.3,382.8 51.43,382.76 52.93,382.76 54.15,382.6 55.5,382.77 56.9,382.79 58.2,382.6 59.48,381.67 61.19,380.63 62.3,379.8 63.62,378.64 64.33,377.58 65.29,376.44 66.3,374.9 66.99,373.92 67.3,371.94 67.92,371.29 69.16,370.06 69.5,368.5 70.13,367.15 70.6,365.61 70.89,364.9 71.4,363 73,361.8 75.5,361.6 77.36,360.89 79,360.5 80.48,359.76 82.19,359 83.8,358.9 85.4,358.04 87,358.2 88.55,357.68 90.6,357.5 92.47,357 94,356.8 94.8,355.58 95.18,353.59 96.2,352.7 96.67,351.73 97.18,350.37 97.76,348.69 98.5,347 98.87,345.92 99.37,344.46 100.29,343.91 100.7,342.2 101.76,340.76 102.9,340 104.36,338.25 105.2,337.6 106.8,336.9 107.33,338.89 108.2,340 108.88,341.72 109.58,342.39 109.9,343.8 110.46,344.99 110.38,346.82 111.09,347.78 111.02,349.35 111.31,350.63 111.9,351.79 112,353.4 112.57,354.74 112.84,356.35 112.68,357.18 112.71,358.38 113.3,360.27 113.5,361.58 114.08,363.24 114,364.4 114.48,366.16 114.56,367.69 115.28,368.48 115.32,370.31 116.24,370.75 116.05,373.03 116.8,374 117.57,374.83 118.1,376.53 119.09,377.82 119.5,378.8 120.56,379.57 122,381 123.51,381.47 125,382.3 126.37,382.48 127.61,382.43 129.07,382.46 130.41,382.42 131.75,382.21 133.15,382.4 134.46,382.34 135.78,382.25 137.02,382.25 138.43,382.42 139.83,382.52 141.16,382.4 142.49,382.43 143.97,382.55 145.31,382.4 146.62,382.46 147.86,382.34 149.26,382.53 150.62,382.35 151.98,382.48 153.39,382.63 154.56,382.31 156,382.5" fill="none" stroke="#4cc43e" stroke-width="1.15" stroke-linejoin="round"/>
<polygon points="238,383.5 239.3,382.88 240.4,382 240.82,380.48 240.79,379.88 241.39,377.85 241.18,377.72 241.4,376.24 241.81,375.04 242.45,373.78 242.37,372.28 242.7,371.3 242.95,370.22 242.95,368.8 243.21,367.32 243.11,366.46 243.21,365.27 243.88,364.31 243.64,362.59 244.28,361.28 244.49,359.87 244.3,359 244.7,357.21 244.73,356.89 244.79,355.44 245.21,354.64 244.84,352.83 244.89,351.41 245.12,349.91 245.62,348.58 245.43,347.25 246.06,346.29 245.68,345.51 246.3,344.28 246.33,342.92 246.6,341.41 246.6,340.4 246.97,339.35 247.11,338.3 247.22,336.57 247.12,335.55 247.28,333.42 247.65,332.34 247.46,331.36 247.31,330.23 247.79,329.23 247.93,327.33 248.02,326.83 248.1,325 248.38,324.2 248.11,322.79 248.44,320.95 248.71,319.75 248.72,318.57 249.2,317.7 249.13,316.11 249.67,314.62 249.37,313.29 249.71,312.21 249.86,310.93 249.75,309.94 249.78,309.13 250.26,307.25 250.38,306.62 250.47,304.66 250.6,303.5 250.86,302.19 251.73,301.3 252,300 252.94,299.73 254.2,298.5 254.29,299.58 255.1,301.5 255.22,301.66 255.6,303.5 255.77,304.7 255.52,305.9 256.26,306.82 255.88,308.26 256.45,309.72 256.5,311.46 256.14,312.46 256.34,314.19 256.74,314.96 257.1,316.8 257,317.7 256.94,318.44 257.37,319.94 257.71,321.3 258.34,322.83 258.58,323.99 258.31,325.16 258.51,326.41 258.74,328.06 259.11,329.24 259.5,330 259.51,330.9 259.73,332.89 260.36,334.04 260.39,334.57 260.35,335.69 261.06,337.05 261.11,338.15 261.01,340.12 261.15,340.73 261.87,342.24 261.44,344 262,345 262.51,346.29 261.99,347.38 262.56,348.41 262.58,350.25 262.91,351.6 263.28,352.46 263.47,353.22 263.29,355.13 263.75,356.12 263.55,357.87 263.74,358.11 263.89,359.6 264.19,361.5 263.91,362.14 264.4,363.6 264.99,365.2 265.2,365.93 265.63,367.71 265.83,368.57 266,369.31 265.87,370.4 266.18,372.22 267.12,373.53 267.31,374.98 267.4,375.9 268.37,376.65 268.7,378.44 269.23,379.19 269.94,379.55 270.44,380.82 271.3,382 272.43,382.64 273.74,382.91 275,383.5" fill="#2aa8ee" stroke="none"/>
<polyline points="215,383 216.29,382.79 217.64,382.75 218.93,382.76 220.29,382.64 221.66,382.55 222.78,382.71 224.29,382.72 225.56,382.4 226.74,382.4 228.06,382.29 229.39,382.31 230.7,382.4 232.13,382.1 233.37,382.26 234.58,382.28 236,382.04 237.3,382 237.83,380.98 238.52,378.93 239.43,377.12 239.7,376 239.86,375.14 240.32,373.58 240.52,371.45 240.57,370.51 241,369.7 240.75,368.12 240.91,366.26 241.2,365 241.47,364.15 241.63,362.02 241.23,361.61 241.69,359.86 241.92,358.99 242.06,357.29 241.98,356.07 242.29,354.62 242.57,353.07 242.64,352.52 242.64,350.5 242.61,349.15 242.7,348 243.04,346.99 242.71,345.2 243.24,343.61 243.35,342.76 243.05,341.2 243.7,339.57 243.51,339.29 243.49,337.73 243.7,336.57 244.2,335.02 244,333.4 243.91,332.49 244.14,330.91 244.49,329.26 244.42,328.02 244.97,326.72 244.99,324.56 244.69,323.72 245,322 245.06,321.05 245.18,319.71 244.91,318.24 245.2,316.59 245.5,315.04 245.48,313.77 245.87,311.86 245.7,310.6 245.95,309.22 246,307.77 246.09,305.93 245.98,305.32 245.9,303.74 246.19,302.03 246.14,300.9 246.4,299.2 246.51,297.7 246.82,296.52 247.16,295.29 247.83,293.49 247.9,292.49 248.85,291.33 248.9,290 249.4,290.89 249.94,291.99 250.52,293.88 250.6,295 251,296.78 251.31,297.5 252,299 252.4,300.89 252.23,301.52 252.71,303.3 253.04,305.38 253.29,306.44 253.47,307.98 253.12,309.7 253.5,310.6 253.35,312.09 253.66,313.65 254.06,314.97 254.42,316.16 254.37,318.21 254.46,318.78 254.73,320.52 254.9,322 255.42,323.56 255.9,325 255.93,326.25 256.47,327.85 256.54,328.59 256.51,329.97 256.36,331.97 256.88,333.27 256.77,334.08 257.26,335.96 256.79,337.68 256.94,337.98 257.31,340.38 257.39,340.93 257.8,342.79 258.14,343.92 257.87,345.38 257.76,346.36 258.2,348 258.65,348.99 258.98,350.42 258.76,351.65 259.05,353.12 259.64,355.08 259.69,355.72 260.2,356.88 260.12,358.66 260.23,360.17 260.53,360.73 261.07,361.94 261.3,363.6 261.5,365.5 262.24,366.43 263.07,367.93 263.36,369.3 264.02,370.82 263.98,371.93 264.43,372.46 265.1,374.4 265.93,375.91 266.8,377.1 268.2,378.07 268.87,378.33 269.8,379.8 271.43,379.58 272.57,380.95 273.67,381.29 274.96,381.25 276.27,381.67 277.5,382 278.9,382.04 280.12,382.17 281.48,381.92 282.76,382.09 284.06,382.03 285.43,382.09 286.62,382.2 288.05,381.96 289.39,382.2 290.57,382.15 291.85,382.21 293.26,382.15 294.63,382.31 295.83,382.06 297.27,382.31 298.5,382.19 299.81,382.1 301.2,382.06 302.39,382.16 303.85,382.32 305.09,382.09 306.47,382.2 307.74,382.1 309.08,382.35 310.31,382.25 311.58,382.4 313,382.44 314.31,382.23 315.71,382.45 317.01,382.36 318.23,382.28 319.5,382.48 320.93,382.2 322.16,382.48 323.59,382.42 324.87,382.34 326.15,382.32 327.52,382.36 328.79,382.35 330.12,382.5 331.38,382.4 332.73,382.47 334,382.5" fill="none" stroke="#141414" stroke-width="1.2" stroke-linejoin="round"/>
<polyline points="225,383 226.16,382.49 227.56,382.02 228.66,381.62 229.92,381.11 231.2,380.6 231.63,379.67 232.12,377.87 233.37,376.38 233.6,375.26 234.3,374.4 234.5,373.13 235.2,372.24 235.03,370.67 235.42,368.52 235.57,367.43 235.95,366.9 236.53,364.46 236.6,363.6 236.75,361.99 236.6,361.32 236.55,359.79 237.23,357.54 236.89,357.12 236.8,355.25 237.03,354.51 237.53,353 237.23,350.85 237.77,349.62 237.37,348.09 237.89,347.16 237.51,345.28 237.81,343.94 237.57,343.1 238.06,341.81 238.1,340.4 238.45,338.51 237.88,337.23 238.32,336.56 238.09,335.12 238.02,333.24 238.22,331.91 238.26,330.76 238.41,330.09 238.71,328.69 238.33,327.33 238.53,326.13 238.75,324.51 238.78,322.38 238.62,321.22 238.64,320.58 238.78,318.49 239.12,317.33 238.67,316.09 239,314.9 238.98,313.64 239.28,312.62 239.31,310.95 239.19,309.87 239.58,308.84 239.61,307.5 239.24,305.52 239.53,304.63 240,303.26 239.66,301.93 239.7,300.55 240,299.2 239.84,298.15 240.68,295.98 240.64,294.4 240.42,293.62 240.56,291.97 241.02,291 241.52,289.19 241.4,287.8 241.3,286.29 241.62,285.21 241.97,283.68 242.34,282.48 242.28,281.75 242.8,280 242.98,280.89 243.3,282.9 243.53,283.3 244.01,285.48 244.2,286.4 244.54,287.76 244.49,288.74 245.04,290.28 245.52,291.96 245.46,293.15 245.7,295 245.85,296.4 246.12,298.4 245.79,299.7 245.97,300.67 246.56,301.94 246.4,303.5 246.4,304.77 246.5,306.02 246.68,307.64 246.92,308.39 246.69,309.98 246.92,311.47 247.18,313.5 247.49,314.73 247.24,315.44 247.64,316.43 247.88,318.36 247.56,320.02 247.99,321.12 248.12,322.19 247.77,323.27 248.1,325 248.59,326.23 248.74,328.19 248.88,328.91 248.94,330.37 248.75,331.82 249.16,332.7 248.81,334.65 249.53,336.33 249.5,336.7 249.55,338.13 249.31,339.95 249.64,341.04 249.7,342.73 249.94,343.87 250.01,344.92 250.36,346.96 250.5,348 251.11,349.56 250.82,350.95 251.62,352.06 251.63,353.53 252.07,354.55 252.09,356.23 252.46,356.86 253.31,358.9 253.61,360.1 254.01,360.46 253.87,361.89 254.3,363.6 254.64,365.49 255.71,366.39 255.98,367.52 256.89,369.44 257.6,369.81 258.46,371.42 259,372.8 259.75,374.23 260.93,375.41 261.94,376.81 262.94,378.14 263.6,379 264.82,379.2 266.51,380.59 268.2,381.3 269.4,381.27 270.76,381.73 272.18,381.71 273.35,381.86 274.86,381.82 276.08,381.97 277.44,382.13 278.59,382.28 280,382.5" fill="none" stroke="#b83232" stroke-width="1.2" stroke-linejoin="round"/>
<polyline points="207,383 208.24,382.94 209.56,382.81 211.02,382.87 212.31,382.76 213.75,382.94 215,382.87 216.26,382.86 217.72,382.7 218.92,382.79 220.25,382.73 221.62,382.57 222.97,382.83 224.34,382.59 225.57,382.52 227.11,382.74 228.36,382.64 229.74,382.45 231.06,382.69 232.29,382.63 233.63,382.58 235,382.5 236.3,382.27 237.8,382.15 238.99,382.04 240.4,382 240.73,380.32 240.73,379.2 241.35,377.47 242.06,376.28 242.05,375.99 242.58,374.58 243.02,373.01 243.07,371.57 243.2,370.7 243.66,369.11 243.79,367.05 244.38,366.81 244.62,364.62 245,363.6 245.32,362.83 245.58,360.79 246.3,359.25 246.53,357.85 247.17,356.37 247.06,355.39 247.9,354.5 248.1,352.8 249.03,351.48 249.06,350.34 250.14,349.04 250.71,347.8 251.2,346.6 252.78,347.56 254.25,347.56 255.9,348 257.42,348.1 259.26,346.9 260.5,346.6 262.01,345.64 263.6,345 264.87,344.16 266.7,343.5 267.92,344.89 269,346.6 270.16,346.88 271.3,348 272.82,348.91 273.42,349.1 275,350 275.71,351.86 276.18,352.29 276.7,353.64 276.98,355.3 277.8,357 278.62,358.25 278.98,359.89 280.14,361.05 280.7,362.8 281.61,363.63 282.1,365.07 282.95,366.75 283.5,368.5 284.76,370.27 285.36,370.72 286.4,372.7 287.08,374.68 288.26,375.99 289.2,377 290.43,377.91 291.2,379.44 292,380.6 293.45,381.01 294.85,381.71 296.3,382 297.65,382.02 298.88,382 300.19,382.11 301.53,382.16 302.87,381.96 304.15,382.14 305.39,382.22 306.8,382.17 307.95,382.01 309.32,382.07 310.61,382.36 311.98,382.08 313.13,382.26 314.43,382.12 315.74,382.25 317.1,382.18 318.31,382.31 319.63,382.23 321.09,382.51 322.19,382.47 323.64,382.53 324.94,382.31 326.21,382.41 327.55,382.41 328.81,382.55 330.13,382.48 331.48,382.44 332.65,382.35 334,382.5" fill="none" stroke="#4cc43e" stroke-width="1.15" stroke-linejoin="round"/>
<polygon points="430,383.5 431.24,383.08 432.37,382.93 433.43,382.5 434.59,381.91 435.75,381.76 436.86,381.36 437.98,380.54 439.19,380.43 440.4,380.2 441.03,379.56 442.02,377.67 442.73,377.03 443.37,376.18 443.7,374.7 444.02,373.16 444.61,372.81 444.69,370.51 445.13,370.05 445.47,369.06 445.84,367.53 445.8,366 445.92,364.84 446.2,363.91 446.49,362.79 446.61,361.31 447.13,360.35 447.31,359.04 446.93,357.5 447.25,356.12 447.33,354.73 447.79,354.34 448,352.8 448.42,352.05 448.38,349.6 448.26,348.34 448.91,347.34 448.96,346.19 449.02,345.36 449.23,343.12 449.38,342.15 449.78,340.73 449.6,339.7 449.56,339 449.83,336.78 450.25,336.57 450.17,334.46 450.59,333.45 450.28,331.89 450.89,330.9 450.48,329.85 450.9,328.8 451.13,328.19 450.87,326.52 451,325.6 451.25,324.18 451.59,322.79 451.41,320.94 451.28,320.55 451.8,319.2 451.7,317.9 451.51,316.88 452.22,315.69 452.28,314.15 452.13,312.47 452.14,311.49 452.5,310 452.88,308.82 453.5,306.9 453.64,307.98 453.87,309.37 454.5,311 454.93,312.96 455.27,313.58 455.2,315.7 455.61,314.6 455.64,313.88 456.16,311.95 456.3,311 456.8,309.5 457.26,310.67 457.22,311.95 457.44,312.65 457.91,314.22 457.9,315.7 458.11,316.55 458.43,317.67 458.29,319.08 459.14,320.89 459.27,321.42 459.32,323.44 459.6,324.4 459.94,325.55 459.63,326.68 460.42,328.5 460.35,329.07 460.51,330.55 460.57,332.09 460.81,332.39 461.1,334.33 461.1,335.3 460.99,336.55 461.8,337.92 461.76,338.94 461.76,340.77 461.83,341.37 461.87,342.65 462.46,344.08 462.87,344.79 462.7,346.3 462.68,347.34 462.96,349.22 463.06,349.9 463.81,351.03 463.61,352.26 463.71,353.35 464.26,354.2 463.9,356.36 464.4,357.2 464.88,358.37 465.01,359.68 465.17,360.89 465.55,362.34 465.85,363.59 465.96,365.33 466.6,366 466.69,367.27 467.39,368.16 468.26,369.84 468.13,370.99 468.8,372.5 469.13,373.93 470.26,375.81 470.26,376.88 471,378 471.78,379.38 472.22,379.59 473.2,381.2 474.32,381.92 475.5,382.19 476.79,382.77 478,383.5" fill="#2aa8ee" stroke="none"/>
<polyline points="384.5,383 385.82,382.28 387.17,381.4 388.5,380.6 389.97,379.27 391.31,378.62 392.2,377.6 392.84,376.65 393.87,375.7 395,373.9 395.73,372.01 396.53,370.62 396.8,369.3 397.4,367.38 397.2,366.79 397.45,365.12 397.6,364.11 398.41,362.42 398.55,361.37 398.7,360 399.07,359.21 399.18,357.06 399.36,356.09 399.96,355.03 399.68,352.58 400.37,351.32 400.41,349.86 400.5,348.9 400.77,347.84 401.37,346.07 401.26,345.28 401.6,343.12 401.74,341.94 402.31,341.11 402.4,339.6 402.36,338.29 403.11,337.38 403.33,335.76 403.42,334.89 403.66,332.74 403.8,331.56 404.2,330.4 405.08,329.18 406.1,328.5 406.46,330.78 407,332.2 406.99,330.37 407.28,329.03 408.06,328.44 408.18,326.05 408.31,325.54 408.21,323.59 408.67,322.37 408.9,321.1 409.28,319.28 409.8,317.4 410.12,319.11 410.29,320.55 409.91,321.71 410.06,323.01 410.26,324.85 410.44,325.71 410.43,327.14 410.76,328.05 410.8,329.9 411.68,331.26 411.71,333 412.13,334.2 413,335.3 413.44,337.15 413.74,338.43 414.67,339.53 415.1,340.6 415.48,341.67 416.05,342.91 416.71,344.47 417.05,346.01 417.3,347 417.51,348.26 417.83,349.09 418.25,351.42 418.95,351.99 419.4,353.4 419.81,354.4 419.64,355.57 419.93,357.16 420.26,358.69 420.59,360.56 420.99,361.87 421.29,362.83 421.5,364.1 422.22,364.99 422.55,367.39 422.28,367.8 422.86,369.5 423.44,370.98 423.7,372.6 424.66,373.68 425.2,374.44 426.21,375.45 426.9,376.9 427.93,377.58 429.08,379.18 430,380 431.63,380.93 433.3,381.2 434.65,381.13 435.92,381.38 437.22,381.46 438.58,381.64 439.85,381.49 441.08,381.63 442.5,381.84 443.61,381.99 445,382 446.2,381.98 447.53,381.89 448.94,382.19 450.15,381.95 451.61,382.21 452.87,382.16 454.03,381.91 455.33,382.1 456.6,382.16 457.9,382.27 459.35,382.19 460.58,382.22 461.98,382.19 463.19,382.18 464.57,381.99 465.83,382.03 467.11,382 468.47,382.16 469.72,382.24 470.99,382.15 472.37,382.15 473.6,382.21 474.84,382.4 476.27,382.39 477.45,382.33 478.88,382.31 480.19,382.2 481.47,382.22 482.74,382.18 483.91,382.31 485.36,382.22 486.65,382.19 488,382.27 489.22,382.24 490.53,382.19 491.88,382.28 493.13,382.41 494.48,382.5 495.78,382.48 496.92,382.26 498.26,382.32 499.5,382.26 500.83,382.39 502.16,382.58 503.59,382.51 504.76,382.63 506.09,382.63 507.36,382.42 508.75,382.46 510,382.5" fill="none" stroke="#141414" stroke-width="1.2" stroke-linejoin="round"/>
<polyline points="425,383 426.31,382.69 427.8,382.26 429.08,382.1 430.56,381.55 431.93,381.4 433.3,381 433.71,380.1 434.17,378.64 434.45,377.12 434.21,376.35 434.48,374.13 434.65,373.31 435.48,371.79 435.79,371.14 435.55,369.39 436,368.1 436.27,366.92 436.55,364.85 436.76,363.61 436.82,362.69 436.75,361.46 437.29,359.61 437.63,358.13 437.95,356.69 438.08,355.89 437.81,354.2 438.6,353.32 438.54,352 438.44,350.42 439.16,348.78 439.05,348.26 439.3,346.3 439.73,344.7 439.89,342.97 439.75,342.61 440.01,340.95 439.83,340.01 440.17,338.57 440.57,336.95 440.39,335.55 440.3,333.8 441.02,332.21 440.48,331.72 440.95,329.61 441.39,328.83 441.19,327.12 441.23,325.74 441.5,324.4 441.82,323.22 441.76,322.1 441.79,320.8 442.48,318.44 442.65,318 442.82,315.94 443.14,314.78 443.29,312.71 443.25,312.31 443.48,311.03 443.7,309.1 443.97,307.33 444.36,305.96 444.29,305.53 444.84,303.37 445,302.5 444.9,303.87 445.15,304.85 445.67,306.48 445.9,308.19 446.03,309.49 446.18,311.03 446.87,312.53 446.9,313.5 446.84,315.4 447.42,316.62 447.39,317.72 447.27,319.44 447.42,320.21 447.7,322.17 448.13,322.82 448.3,324.55 448.11,325.39 448.49,327.11 448.47,328.47 448.91,329.88 449.1,331 449.21,331.83 449.47,333.18 449.53,334.55 450.06,336.52 449.85,337.41 450,338.82 450.52,340.48 450.32,341.47 450.77,342.8 451.1,344.72 451.04,345.37 451.46,347.03 451.3,348.5 451.7,350.29 452.15,350.94 452.45,352.01 452.15,354.2 452.78,355.84 452.68,356.39 452.99,357.83 453.5,359.4 453.62,360.62 454.71,362.4 454.77,363.03 455.15,364.4 456.04,365.84 456.02,366.59 456.8,368.1 457.5,369.42 458.69,370.48 459.44,371.94 460,373.6 461.33,375.11 461.97,376.08 463.66,377.32 464.4,378 465.62,379.24 466.62,379.5 467.97,380.17 468.8,381.2 470.32,381.69 471.82,381.85 473.48,382.09 475,382.5" fill="none" stroke="#b83232" stroke-width="1.2" stroke-linejoin="round"/>
<polyline points="384.5,383 385.72,383.17 387.18,383.12 388.52,383.04 389.8,382.86 391.05,383.03 392.33,382.89 393.67,382.83 395.02,383.02 396.29,382.88 397.71,383.07 398.92,383 400.29,382.99 401.7,382.96 402.95,383.08 404.2,383.06 405.55,383.05 406.79,383.15 408.21,382.92 409.59,382.85 410.8,382.93 412.01,383.15 413.53,383.11 414.71,383.03 416.12,382.82 417.4,382.87 418.59,382.85 420,383 421.39,382.45 422.53,381.72 423.84,381.39 425.47,380.14 426.2,379.61 427.99,379.69 429,379 430.62,378.36 432.5,377.5 432.64,376.04 433.21,374.39 433.48,373.18 433.48,372.03 433.72,371.44 434.53,369.84 434.46,368.95 434.98,366.71 435,366 435.84,364.99 436,363.44 436.86,361.42 437.1,360.08 437.51,359.68 438.2,358 438.31,357.22 438.26,355.27 438.6,353.93 438.77,352.27 438.64,351.38 439.48,350.08 439.45,349.27 439.14,348.14 439.33,346.22 440.04,345.36 440.26,343.83 440.33,341.77 440.37,341.52 440.4,339.7 440.83,338.66 440.83,336.74 440.72,336.23 440.85,334.25 441,333.06 440.85,332.31 440.89,330.58 441.16,329.36 441.2,328.45 441.2,326.3 441.08,325.21 441.23,324.57 441.47,322.26 441.72,321.02 441.91,319.87 441.51,319.23 442.03,317.57 442.17,316.57 441.74,314.4 442.1,313.5 442.5,312.61 442.22,311.23 442.53,309.52 442.41,308.08 442.48,307.23 442.7,305.35 442.62,304.68 442.32,302.84 442.82,301.36 442.81,300.36 442.84,298.91 442.69,297.68 443.02,296.36 443.13,294.68 443.2,293.66 443.2,292.46 443.08,290.5 443,289.5 443.43,290.9 443.21,292.12 443.86,293.75 443.81,294.32 444.61,296.28 444.5,297.5 444.66,298.66 444.55,300.96 444.77,301.99 444.95,303.39 445,304.72 445.68,306.58 445.87,307.3 445.8,309.1 446.2,310.05 446.13,311.57 446.21,313.44 446.36,314.39 446.51,316.15 446.86,317.56 446.96,317.7 447.3,319.78 446.92,320.73 447.18,322.65 447.21,323.75 447.3,324.95 447.69,326.47 447.95,326.94 448,328.8 447.98,330.44 448.29,331.17 448.11,332.38 448.16,334.7 448.53,335.82 449.06,336.36 448.83,338.08 448.81,339.82 448.8,341.28 449.12,342.17 449.39,343.98 449.28,345.22 449.6,346.3 450.09,348.15 449.87,349.43 450.45,350.92 450.55,352.03 450.53,353.01 450.65,353.97 450.75,356.15 451.68,357.59 451.89,358.54 451.56,359.53 452.05,361.25 452.21,362.32 452.4,363.8 453.22,364.63 453.08,366.52 454.06,367.42 454.63,368.95 454.7,369.9 455.02,371.11 456.08,371.94 455.99,373.81 456.8,374.7 457.7,375.39 458.71,376.55 460.02,377.96 460.82,379.29 462.2,380.2 463.77,380.5 464.91,380.96 466.18,381.14 467.33,381.47 468.79,381.82 470,382 471.4,382.09 472.66,382.1 473.93,381.88 475.4,381.93 476.69,382.07 477.95,382.17 479.35,382.01 480.71,382.31 481.91,382 483.4,382.16 484.74,382.27 485.98,382.31 487.4,382.32 488.61,382.23 489.99,382.34 491.42,382.37 492.65,382.26 494.08,382.16 495.39,382.31 496.69,382.49 497.99,382.22 499.43,382.21 500.72,382.45 502,382.5 503.24,382.24 504.67,382.53 506,382.36 507.31,382.39 508.72,382.59 510,382.5" fill="none" stroke="#4cc43e" stroke-width="1.15" stroke-linejoin="round"/>
<path d="M30 45.5H156.7V163.1" fill="none" stroke="#0a0a0a" stroke-width="1.3"/>
<path d="M30 45.5V163.1" fill="none" stroke="#000" stroke-width="1.7"/>
<path d="M30 163.1H156.7" fill="none" stroke="#000" stroke-width="1.3"/>
<path d="M25 162H30 M27 157.65H30 M27 153.3H30 M27 148.94H30 M27 144.59H30 M25 140.24H30 M27 135.89H30 M27 131.54H30 M27 127.18H30 M27 122.83H30 M25 118.48H30 M27 114.13H30 M27 109.78H30 M27 105.42H30 M27 101.07H30 M25 96.72H30 M27 92.37H30 M27 88.02H30 M27 83.66H30 M27 79.31H30 M25 74.96H30 M27 70.61H30 M27 66.26H30 M27 61.9H30 M27 57.55H30 M25 53.2H30 M27 48.85H30" stroke="#000" stroke-width="1.15"/>
<path d="M30 163.1V166.8 M39.45 163.1V165.1 M44.98 163.1V165.1 M48.9 163.1V165.1 M51.95 163.1V165.1 M54.43 163.1V165.1 M56.54 163.1V165.1 M58.36 163.1V165.1 M59.96 163.1V165.1 M61.4 163.1V166.8 M70.85 163.1V165.1 M76.38 163.1V165.1 M80.3 163.1V165.1 M83.35 163.1V165.1 M85.83 163.1V165.1 M87.94 163.1V165.1 M89.76 163.1V165.1 M91.36 163.1V165.1 M92.8 163.1V166.8 M102.25 163.1V165.1 M107.78 163.1V165.1 M111.7 163.1V165.1 M114.75 163.1V165.1 M117.23 163.1V165.1 M119.34 163.1V165.1 M121.16 163.1V165.1 M122.76 163.1V165.1 M124.2 163.1V166.8 M133.65 163.1V165.1 M139.18 163.1V165.1 M143.1 163.1V165.1 M146.15 163.1V165.1 M148.63 163.1V165.1 M150.74 163.1V165.1 M152.56 163.1V165.1 M154.16 163.1V165.1 M155.6 163.1V166.8" stroke="#000" stroke-width="1.1"/>
<text class="r" transform="translate(22.2 160.7) scale(0.8 1) rotate(-90)" text-anchor="middle" font-size="9.4">0</text>
<text class="r" transform="translate(22.2 138.5) scale(0.8 1) rotate(-90)" text-anchor="middle" font-size="9.4">30</text>
<text class="r" transform="translate(22.2 118) scale(0.8 1) rotate(-90)" text-anchor="middle" font-size="9.4">60</text>
<text class="r" transform="translate(22.2 96.1) scale(0.8 1) rotate(-90)" text-anchor="middle" font-size="9.4">90</text>
<text class="r" transform="translate(22.2 74) scale(0.8 1) rotate(-90)" text-anchor="middle" font-size="9.4">120</text>
<text class="r" transform="translate(22.2 51.5) scale(0.8 1) rotate(-90)" text-anchor="middle" font-size="9.4">150</text>
<text class="r" transform="translate(12.3 103.8) scale(0.93 1) rotate(-90)" text-anchor="middle" font-size="8.7">Counts</text>
<text class="r" transform="translate(23.7 176.7) scale(1 1.2)" font-size="7.8">10<tspan dx="0.5" dy="-3.6">0</tspan></text>
<text class="r" transform="translate(55.1 176.7) scale(1 1.2)" font-size="7.8">10<tspan dx="0.5" dy="-3.6">1</tspan></text>
<text class="r" transform="translate(86.5 176.7) scale(1 1.2)" font-size="7.8">10<tspan dx="0.5" dy="-3.6">2</tspan></text>
<text class="r" transform="translate(117.9 176.7) scale(1 1.2)" font-size="7.8">10<tspan dx="0.5" dy="-3.6">3</tspan></text>
<text class="r" transform="translate(149.3 176.7) scale(1 1.2)" font-size="7.8">10<tspan dx="0.5" dy="-3.6">4</tspan></text>
<path d="M207.3 45.3H333.9V162.7" fill="none" stroke="#0a0a0a" stroke-width="1.3"/>
<path d="M207.3 45.3V162.7" fill="none" stroke="#000" stroke-width="1.7"/>
<path d="M207.3 162.7H333.9" fill="none" stroke="#000" stroke-width="1.3"/>
<path d="M202.3 161.8H207.3 M204.3 158.5H207.3 M204.3 155.2H207.3 M204.3 151.9H207.3 M204.3 148.6H207.3 M202.3 145.3H207.3 M204.3 142H207.3 M204.3 138.7H207.3 M204.3 135.4H207.3 M204.3 132.1H207.3 M202.3 128.8H207.3 M204.3 125.5H207.3 M204.3 122.2H207.3 M204.3 118.9H207.3 M204.3 115.6H207.3 M202.3 112.3H207.3 M204.3 109H207.3 M204.3 105.7H207.3 M204.3 102.4H207.3 M204.3 99.1H207.3 M202.3 95.8H207.3 M204.3 92.5H207.3 M204.3 89.2H207.3 M204.3 85.9H207.3 M204.3 82.6H207.3 M202.3 79.3H207.3 M204.3 76H207.3 M204.3 72.7H207.3 M204.3 69.4H207.3 M204.3 66.1H207.3 M202.3 62.8H207.3 M204.3 59.5H207.3 M204.3 56.2H207.3 M204.3 52.9H207.3 M204.3 49.6H207.3 M202.3 46.3H207.3" stroke="#000" stroke-width="1.15"/>
<path d="M207.3 162.7V166.4 M216.75 162.7V164.7 M222.28 162.7V164.7 M226.2 162.7V164.7 M229.25 162.7V164.7 M231.73 162.7V164.7 M233.84 162.7V164.7 M235.66 162.7V164.7 M237.26 162.7V164.7 M238.7 162.7V166.4 M248.15 162.7V164.7 M253.68 162.7V164.7 M257.6 162.7V164.7 M260.65 162.7V164.7 M263.13 162.7V164.7 M265.24 162.7V164.7 M267.06 162.7V164.7 M268.66 162.7V164.7 M270.1 162.7V166.4 M279.55 162.7V164.7 M285.08 162.7V164.7 M289 162.7V164.7 M292.05 162.7V164.7 M294.53 162.7V164.7 M296.64 162.7V164.7 M298.46 162.7V164.7 M300.06 162.7V164.7 M301.5 162.7V166.4 M310.95 162.7V164.7 M316.48 162.7V164.7 M320.4 162.7V164.7 M323.45 162.7V164.7 M325.93 162.7V164.7 M328.04 162.7V164.7 M329.86 162.7V164.7 M331.46 162.7V164.7 M332.9 162.7V166.4" stroke="#000" stroke-width="1.1"/>
<text class="r" transform="translate(199.5 161.3) scale(0.8 1) rotate(-90)" text-anchor="middle" font-size="9.8">0</text>
<text class="r" transform="translate(199.5 145.8) scale(0.8 1) rotate(-90)" text-anchor="middle" font-size="9.8">20</text>
<text class="r" transform="translate(199.5 128.3) scale(0.8 1) rotate(-90)" text-anchor="middle" font-size="9.8">40</text>
<text class="r" transform="translate(199.5 111.9) scale(0.8 1) rotate(-90)" text-anchor="middle" font-size="9.8">60</text>
<text class="r" transform="translate(199.5 92.8) scale(0.8 1) rotate(-90)" text-anchor="middle" font-size="9.8">80</text>
<text class="r" transform="translate(199.5 74.1) scale(0.8 1) rotate(-90)" text-anchor="middle" font-size="9.8">100</text>
<text class="r" transform="translate(199.5 58.2) scale(0.8 1) rotate(-90)" text-anchor="middle" font-size="9.8">120</text>
<text class="r" transform="translate(199.5 44.3) scale(0.8 1) rotate(-90)" text-anchor="middle" font-size="9.8">140</text>
<text class="r" transform="translate(189.6 103.6) scale(0.93 1) rotate(-90)" text-anchor="middle" font-size="8.7">Counts</text>
<text class="r" transform="translate(201 176.3) scale(1 1.2)" font-size="7.8">10<tspan dx="0.5" dy="-3.6">0</tspan></text>
<text class="r" transform="translate(232.4 176.3) scale(1 1.2)" font-size="7.8">10<tspan dx="0.5" dy="-3.6">1</tspan></text>
<text class="r" transform="translate(263.8 176.3) scale(1 1.2)" font-size="7.8">10<tspan dx="0.5" dy="-3.6">2</tspan></text>
<text class="r" transform="translate(295.2 176.3) scale(1 1.2)" font-size="7.8">10<tspan dx="0.5" dy="-3.6">3</tspan></text>
<text class="r" transform="translate(326.6 176.3) scale(1 1.2)" font-size="7.8">10<tspan dx="0.5" dy="-3.6">4</tspan></text>
<path d="M384 45.4H510.4V162.6" fill="none" stroke="#0a0a0a" stroke-width="1.3"/>
<path d="M384 45.4V162.6" fill="none" stroke="#000" stroke-width="1.7"/>
<path d="M384 162.6H510.4" fill="none" stroke="#000" stroke-width="1.3"/>
<path d="M379 161.7H384 M381 158.4H384 M381 155.11H384 M381 151.81H384 M381 148.51H384 M379 145.21H384 M381 141.92H384 M381 138.62H384 M381 135.32H384 M381 132.03H384 M379 128.73H384 M381 125.43H384 M381 122.13H384 M381 118.84H384 M381 115.54H384 M379 112.24H384 M381 108.95H384 M381 105.65H384 M381 102.35H384 M381 99.05H384 M379 95.76H384 M381 92.46H384 M381 89.16H384 M381 85.87H384 M381 82.57H384 M379 79.27H384 M381 75.97H384 M381 72.68H384 M381 69.38H384 M381 66.08H384 M379 62.79H384 M381 59.49H384 M381 56.19H384 M381 52.89H384 M381 49.6H384 M379 46.3H384" stroke="#000" stroke-width="1.15"/>
<path d="M384 162.6V166.3 M393.45 162.6V164.6 M398.98 162.6V164.6 M402.9 162.6V164.6 M405.95 162.6V164.6 M408.43 162.6V164.6 M410.54 162.6V164.6 M412.36 162.6V164.6 M413.96 162.6V164.6 M415.4 162.6V166.3 M424.85 162.6V164.6 M430.38 162.6V164.6 M434.3 162.6V164.6 M437.35 162.6V164.6 M439.83 162.6V164.6 M441.94 162.6V164.6 M443.76 162.6V164.6 M445.36 162.6V164.6 M446.8 162.6V166.3 M456.25 162.6V164.6 M461.78 162.6V164.6 M465.7 162.6V164.6 M468.75 162.6V164.6 M471.23 162.6V164.6 M473.34 162.6V164.6 M475.16 162.6V164.6 M476.76 162.6V164.6 M478.2 162.6V166.3 M487.65 162.6V164.6 M493.18 162.6V164.6 M497.1 162.6V164.6 M500.15 162.6V164.6 M502.63 162.6V164.6 M504.74 162.6V164.6 M506.56 162.6V164.6 M508.16 162.6V164.6 M509.6 162.6V166.3" stroke="#000" stroke-width="1.1"/>
<text class="r" transform="translate(376.2 161.2) scale(0.8 1) rotate(-90)" text-anchor="middle" font-size="9.8">0</text>
<text class="r" transform="translate(376.2 145.7) scale(0.8 1) rotate(-90)" text-anchor="middle" font-size="9.8">20</text>
<text class="r" transform="translate(376.2 128.2) scale(0.8 1) rotate(-90)" text-anchor="middle" font-size="9.8">40</text>
<text class="r" transform="translate(376.2 111.8) scale(0.8 1) rotate(-90)" text-anchor="middle" font-size="9.8">60</text>
<text class="r" transform="translate(376.2 92.7) scale(0.8 1) rotate(-90)" text-anchor="middle" font-size="9.8">80</text>
<text class="r" transform="translate(376.2 74) scale(0.8 1) rotate(-90)" text-anchor="middle" font-size="9.8">100</text>
<text class="r" transform="translate(376.2 58.1) scale(0.8 1) rotate(-90)" text-anchor="middle" font-size="9.8">120</text>
<text class="r" transform="translate(376.2 44.2) scale(0.8 1) rotate(-90)" text-anchor="middle" font-size="9.8">140</text>
<text class="r" transform="translate(366.3 103.7) scale(0.93 1) rotate(-90)" text-anchor="middle" font-size="8.7">Counts</text>
<text class="r" transform="translate(377.7 176.2) scale(1 1.2)" font-size="7.8">10<tspan dx="0.5" dy="-3.6">0</tspan></text>
<text class="r" transform="translate(409.1 176.2) scale(1 1.2)" font-size="7.8">10<tspan dx="0.5" dy="-3.6">1</tspan></text>
<text class="r" transform="translate(440.5 176.2) scale(1 1.2)" font-size="7.8">10<tspan dx="0.5" dy="-3.6">2</tspan></text>
<text class="r" transform="translate(471.9 176.2) scale(1 1.2)" font-size="7.8">10<tspan dx="0.5" dy="-3.6">3</tspan></text>
<text class="r" transform="translate(503.3 176.2) scale(1 1.2)" font-size="7.8">10<tspan dx="0.5" dy="-3.6">4</tspan></text>
<path d="M29.6 267.2H156.6V385" fill="none" stroke="#0a0a0a" stroke-width="1.3"/>
<path d="M29.6 267.2V385" fill="none" stroke="#000" stroke-width="1.7"/>
<path d="M29.6 385H156.6" fill="none" stroke="#000" stroke-width="1.3"/>
<path d="M24.6 384H29.6 M26.6 379.64H29.6 M26.6 375.27H29.6 M26.6 370.91H29.6 M26.6 366.54H29.6 M24.6 362.18H29.6 M26.6 357.82H29.6 M26.6 353.45H29.6 M26.6 349.09H29.6 M26.6 344.72H29.6 M24.6 340.36H29.6 M26.6 336H29.6 M26.6 331.63H29.6 M26.6 327.27H29.6 M26.6 322.9H29.6 M24.6 318.54H29.6 M26.6 314.18H29.6 M26.6 309.81H29.6 M26.6 305.45H29.6 M26.6 301.08H29.6 M24.6 296.72H29.6 M26.6 292.36H29.6 M26.6 287.99H29.6 M26.6 283.63H29.6 M26.6 279.26H29.6 M24.6 274.9H29.6 M26.6 270.54H29.6" stroke="#000" stroke-width="1.15"/>
<path d="M29.6 385V388.7 M39.05 385V387 M44.58 385V387 M48.5 385V387 M51.55 385V387 M54.03 385V387 M56.14 385V387 M57.96 385V387 M59.56 385V387 M61 385V388.7 M70.45 385V387 M75.98 385V387 M79.9 385V387 M82.95 385V387 M85.43 385V387 M87.54 385V387 M89.36 385V387 M90.96 385V387 M92.4 385V388.7 M101.85 385V387 M107.38 385V387 M111.3 385V387 M114.35 385V387 M116.83 385V387 M118.94 385V387 M120.76 385V387 M122.36 385V387 M123.8 385V388.7 M133.25 385V387 M138.78 385V387 M142.7 385V387 M145.75 385V387 M148.23 385V387 M150.34 385V387 M152.16 385V387 M153.76 385V387 M155.2 385V388.7" stroke="#000" stroke-width="1.1"/>
<text class="r" transform="translate(21.8 382.7) scale(0.8 1) rotate(-90)" text-anchor="middle" font-size="9.4">0</text>
<text class="r" transform="translate(21.8 360.5) scale(0.8 1) rotate(-90)" text-anchor="middle" font-size="9.4">30</text>
<text class="r" transform="translate(21.8 340) scale(0.8 1) rotate(-90)" text-anchor="middle" font-size="9.4">60</text>
<text class="r" transform="translate(21.8 318.1) scale(0.8 1) rotate(-90)" text-anchor="middle" font-size="9.4">90</text>
<text class="r" transform="translate(21.8 296) scale(0.8 1) rotate(-90)" text-anchor="middle" font-size="9.4">120</text>
<text class="r" transform="translate(21.8 273.5) scale(0.8 1) rotate(-90)" text-anchor="middle" font-size="9.4">150</text>
<text class="r" transform="translate(11.9 325.5) scale(0.93 1) rotate(-90)" text-anchor="middle" font-size="8.7">Counts</text>
<text class="r" transform="translate(23.3 398.6) scale(1 1.2)" font-size="7.8">10<tspan dx="0.5" dy="-3.6">0</tspan></text>
<text class="r" transform="translate(54.7 398.6) scale(1 1.2)" font-size="7.8">10<tspan dx="0.5" dy="-3.6">1</tspan></text>
<text class="r" transform="translate(86.1 398.6) scale(1 1.2)" font-size="7.8">10<tspan dx="0.5" dy="-3.6">2</tspan></text>
<text class="r" transform="translate(117.5 398.6) scale(1 1.2)" font-size="7.8">10<tspan dx="0.5" dy="-3.6">3</tspan></text>
<text class="r" transform="translate(148.9 398.6) scale(1 1.2)" font-size="7.8">10<tspan dx="0.5" dy="-3.6">4</tspan></text>
<path d="M207 266.7H334V384.8" fill="none" stroke="#0a0a0a" stroke-width="1.3"/>
<path d="M207 266.7V384.8" fill="none" stroke="#000" stroke-width="1.7"/>
<path d="M207 384.8H334" fill="none" stroke="#000" stroke-width="1.3"/>
<path d="M202 384H207 M204 380.68H207 M204 377.36H207 M204 374.04H207 M204 370.72H207 M202 367.4H207 M204 364.08H207 M204 360.76H207 M204 357.44H207 M204 354.12H207 M202 350.8H207 M204 347.48H207 M204 344.16H207 M204 340.84H207 M204 337.52H207 M202 334.2H207 M204 330.88H207 M204 327.56H207 M204 324.24H207 M204 320.92H207 M202 317.6H207 M204 314.28H207 M204 310.96H207 M204 307.64H207 M204 304.32H207 M202 301H207 M204 297.68H207 M204 294.36H207 M204 291.04H207 M204 287.72H207 M202 284.4H207 M204 281.08H207 M204 277.76H207 M204 274.44H207 M204 271.12H207 M202 267.8H207" stroke="#000" stroke-width="1.15"/>
<path d="M207 384.8V388.5 M216.45 384.8V386.8 M221.98 384.8V386.8 M225.9 384.8V386.8 M228.95 384.8V386.8 M231.43 384.8V386.8 M233.54 384.8V386.8 M235.36 384.8V386.8 M236.96 384.8V386.8 M238.4 384.8V388.5 M247.85 384.8V386.8 M253.38 384.8V386.8 M257.3 384.8V386.8 M260.35 384.8V386.8 M262.83 384.8V386.8 M264.94 384.8V386.8 M266.76 384.8V386.8 M268.36 384.8V386.8 M269.8 384.8V388.5 M279.25 384.8V386.8 M284.78 384.8V386.8 M288.7 384.8V386.8 M291.75 384.8V386.8 M294.23 384.8V386.8 M296.34 384.8V386.8 M298.16 384.8V386.8 M299.76 384.8V386.8 M301.2 384.8V388.5 M310.65 384.8V386.8 M316.18 384.8V386.8 M320.1 384.8V386.8 M323.15 384.8V386.8 M325.63 384.8V386.8 M327.74 384.8V386.8 M329.56 384.8V386.8 M331.16 384.8V386.8 M332.6 384.8V388.5" stroke="#000" stroke-width="1.1"/>
<text class="r" transform="translate(199.2 383.5) scale(0.8 1) rotate(-90)" text-anchor="middle" font-size="9.8">0</text>
<text class="r" transform="translate(199.2 368) scale(0.8 1) rotate(-90)" text-anchor="middle" font-size="9.8">20</text>
<text class="r" transform="translate(199.2 350.5) scale(0.8 1) rotate(-90)" text-anchor="middle" font-size="9.8">40</text>
<text class="r" transform="translate(199.2 334.1) scale(0.8 1) rotate(-90)" text-anchor="middle" font-size="9.8">60</text>
<text class="r" transform="translate(199.2 315) scale(0.8 1) rotate(-90)" text-anchor="middle" font-size="9.8">80</text>
<text class="r" transform="translate(199.2 296.3) scale(0.8 1) rotate(-90)" text-anchor="middle" font-size="9.8">100</text>
<text class="r" transform="translate(199.2 280.4) scale(0.8 1) rotate(-90)" text-anchor="middle" font-size="9.8">120</text>
<text class="r" transform="translate(199.2 266.5) scale(0.8 1) rotate(-90)" text-anchor="middle" font-size="9.8">140</text>
<text class="r" transform="translate(189.3 325) scale(0.93 1) rotate(-90)" text-anchor="middle" font-size="8.7">Counts</text>
<text class="r" transform="translate(200.7 398.4) scale(1 1.2)" font-size="7.8">10<tspan dx="0.5" dy="-3.6">0</tspan></text>
<text class="r" transform="translate(232.1 398.4) scale(1 1.2)" font-size="7.8">10<tspan dx="0.5" dy="-3.6">1</tspan></text>
<text class="r" transform="translate(263.5 398.4) scale(1 1.2)" font-size="7.8">10<tspan dx="0.5" dy="-3.6">2</tspan></text>
<text class="r" transform="translate(294.9 398.4) scale(1 1.2)" font-size="7.8">10<tspan dx="0.5" dy="-3.6">3</tspan></text>
<text class="r" transform="translate(326.3 398.4) scale(1 1.2)" font-size="7.8">10<tspan dx="0.5" dy="-3.6">4</tspan></text>
<path d="M384.2 266.9H510.7V384.8" fill="none" stroke="#0a0a0a" stroke-width="1.3"/>
<path d="M384.2 266.9V384.8" fill="none" stroke="#000" stroke-width="1.7"/>
<path d="M384.2 384.8H510.7" fill="none" stroke="#000" stroke-width="1.3"/>
<path d="M379.2 384H384.2 M381.2 379.63H384.2 M381.2 375.26H384.2 M381.2 370.88H384.2 M381.2 366.51H384.2 M379.2 362.14H384.2 M381.2 357.77H384.2 M381.2 353.4H384.2 M381.2 349.02H384.2 M381.2 344.65H384.2 M379.2 340.28H384.2 M381.2 335.91H384.2 M381.2 331.54H384.2 M381.2 327.16H384.2 M381.2 322.79H384.2 M379.2 318.42H384.2 M381.2 314.05H384.2 M381.2 309.68H384.2 M381.2 305.3H384.2 M381.2 300.93H384.2 M379.2 296.56H384.2 M381.2 292.19H384.2 M381.2 287.82H384.2 M381.2 283.44H384.2 M381.2 279.07H384.2 M379.2 274.7H384.2 M381.2 270.33H384.2" stroke="#000" stroke-width="1.15"/>
<path d="M384.2 384.8V388.5 M393.65 384.8V386.8 M399.18 384.8V386.8 M403.1 384.8V386.8 M406.15 384.8V386.8 M408.63 384.8V386.8 M410.74 384.8V386.8 M412.56 384.8V386.8 M414.16 384.8V386.8 M415.6 384.8V388.5 M425.05 384.8V386.8 M430.58 384.8V386.8 M434.5 384.8V386.8 M437.55 384.8V386.8 M440.03 384.8V386.8 M442.14 384.8V386.8 M443.96 384.8V386.8 M445.56 384.8V386.8 M447 384.8V388.5 M456.45 384.8V386.8 M461.98 384.8V386.8 M465.9 384.8V386.8 M468.95 384.8V386.8 M471.43 384.8V386.8 M473.54 384.8V386.8 M475.36 384.8V386.8 M476.96 384.8V386.8 M478.4 384.8V388.5 M487.85 384.8V386.8 M493.38 384.8V386.8 M497.3 384.8V386.8 M500.35 384.8V386.8 M502.83 384.8V386.8 M504.94 384.8V386.8 M506.76 384.8V386.8 M508.36 384.8V386.8 M509.8 384.8V388.5" stroke="#000" stroke-width="1.1"/>
<text class="r" transform="translate(376.4 382.7) scale(0.8 1) rotate(-90)" text-anchor="middle" font-size="9.4">0</text>
<text class="r" transform="translate(376.4 360.5) scale(0.8 1) rotate(-90)" text-anchor="middle" font-size="9.4">30</text>
<text class="r" transform="translate(376.4 340) scale(0.8 1) rotate(-90)" text-anchor="middle" font-size="9.4">60</text>
<text class="r" transform="translate(376.4 318.1) scale(0.8 1) rotate(-90)" text-anchor="middle" font-size="9.4">90</text>
<text class="r" transform="translate(376.4 296) scale(0.8 1) rotate(-90)" text-anchor="middle" font-size="9.4">120</text>
<text class="r" transform="translate(376.4 273.5) scale(0.8 1) rotate(-90)" text-anchor="middle" font-size="9.4">150</text>
<text class="r" transform="translate(366.5 325.2) scale(0.93 1) rotate(-90)" text-anchor="middle" font-size="8.7">Counts</text>
<text class="r" transform="translate(377.9 398.4) scale(1 1.2)" font-size="7.8">10<tspan dx="0.5" dy="-3.6">0</tspan></text>
<text class="r" transform="translate(409.3 398.4) scale(1 1.2)" font-size="7.8">10<tspan dx="0.5" dy="-3.6">1</tspan></text>
<text class="r" transform="translate(440.7 398.4) scale(1 1.2)" font-size="7.8">10<tspan dx="0.5" dy="-3.6">2</tspan></text>
<text class="r" transform="translate(472.1 398.4) scale(1 1.2)" font-size="7.8">10<tspan dx="0.5" dy="-3.6">3</tspan></text>
<text class="r" transform="translate(503.5 398.4) scale(1 1.2)" font-size="7.8">10<tspan dx="0.5" dy="-3.6">4</tspan></text>
<text x="71.13 77.79 83.94" y="15.5" font-size="14.4" font-weight="bold" fill="#111" stroke="#111" stroke-width="0.2" stroke-linejoin="round">tie</text>
<rect x="71.2" y="16.1" width="22.5" height="1.5" fill="#161616"/>
<text x="240.36 250.63 263.16 272.05 278.46" y="13.3" font-size="14.0" font-weight="bold" fill="#111" stroke="#111" stroke-width="0.2" stroke-linejoin="round">EGF-R</text>
<rect x="240.5" y="14.2" width="47.2" height="1.1" fill="#161616"/>
<text x="417.98 429.61 440.23 448.92" y="13.3" font-size="14.0" font-weight="bold" fill="#111" stroke="#111" stroke-width="0.2" stroke-linejoin="round">CD31</text>
<rect x="417" y="14.2" width="39.5" height="1.2" fill="#161616"/>
<text x="73.91 84 94.15" y="236.1" font-size="13.6" font-weight="bold" fill="#111" stroke="#111" stroke-width="0.2" stroke-linejoin="round">axl</text>
<rect x="73.2" y="237.3" width="25.1" height="1.4" fill="#161616"/>
<text x="238.48 249.61 260.28 268.01 277.06" y="233.9" font-size="14.0" font-weight="bold" fill="#111" stroke="#111" stroke-width="0.2" stroke-linejoin="round">CD62E</text>
<rect x="238" y="235.2" width="48" height="1.4" fill="#161616"/>
<text x="412.46 422.03 434.26 444.65 450.46 463.22" y="236.7" font-size="14.0" font-weight="bold" fill="#111" stroke="#111" stroke-width="0.2" stroke-linejoin="round">FGF-R1</text>
<rect x="411.8" y="237.6" width="58.2" height="1.3" fill="#161616"/>
<text class="r" transform="translate(43.3 194) scale(1 1.12)" font-size="9" letter-spacing="0.4" xml:space="preserve">Fluorescent  Intensity</text>
<text class="r" transform="translate(221.7 194.1) scale(1 1.12)" font-size="9" letter-spacing="0.4" xml:space="preserve">Fluorescent  Intensity</text>
<text class="r" transform="translate(399 194.1) scale(1 1.12)" font-size="9" letter-spacing="0.4" xml:space="preserve">Fluorescent  Intensity</text>
<text class="r" transform="translate(49.9 416) scale(1 1.12)" font-size="9" letter-spacing="0.4" xml:space="preserve">Fluorescent  Intensity</text>
<text class="r" transform="translate(223 415.7) scale(1 1.12)" font-size="9" letter-spacing="0.4" xml:space="preserve">Fluorescent  Intensity</text>
<text class="r" transform="translate(398 415.7) scale(1 1.12)" font-size="9" letter-spacing="0.4" xml:space="preserve">Fluorescent  Intensity</text>
<text transform="scale(0.97 1)" x="4.23 7.81 14.41 30.49 38.55 44.96 52.24 55.48 60.1 67.29" y="213.3" font-size="10.7" font-weight="bold" fill="#111" stroke="#111" stroke-width="0.2" stroke-linejoin="round">IgGControl</text>
<text transform="scale(1.02 1)" x="7.63 15.71 23.21 27.08 31.76 38.43 44.98 49.41 56.45" y="225.8" font-size="10.1" font-weight="bold" fill="#3f95c2" stroke="#3f95c2" stroke-width="0.2" stroke-linejoin="round">Untreated</text>
<text transform="scale(1.02 1)" x="23.04 30.4 39.94" y="238.8" font-size="10.2" font-weight="bold" fill="#b83232" stroke="#b83232" stroke-width="0.2" stroke-linejoin="round">PMA</text>
<text transform="scale(1.02 1)" x="21.06 27.65 36.08" y="251.6" font-size="10.2" font-weight="bold" fill="#4cc43e" stroke="#4cc43e" stroke-width="0.2" stroke-linejoin="round">TNF</text>
<text transform="scale(1.05 1)" x="41.19" y="251.4" font-size="10.2" fill="#4cc43e" stroke="#4cc43e" stroke-width="0.15" stroke-linejoin="round">α</text>
</svg>
</body></html>
